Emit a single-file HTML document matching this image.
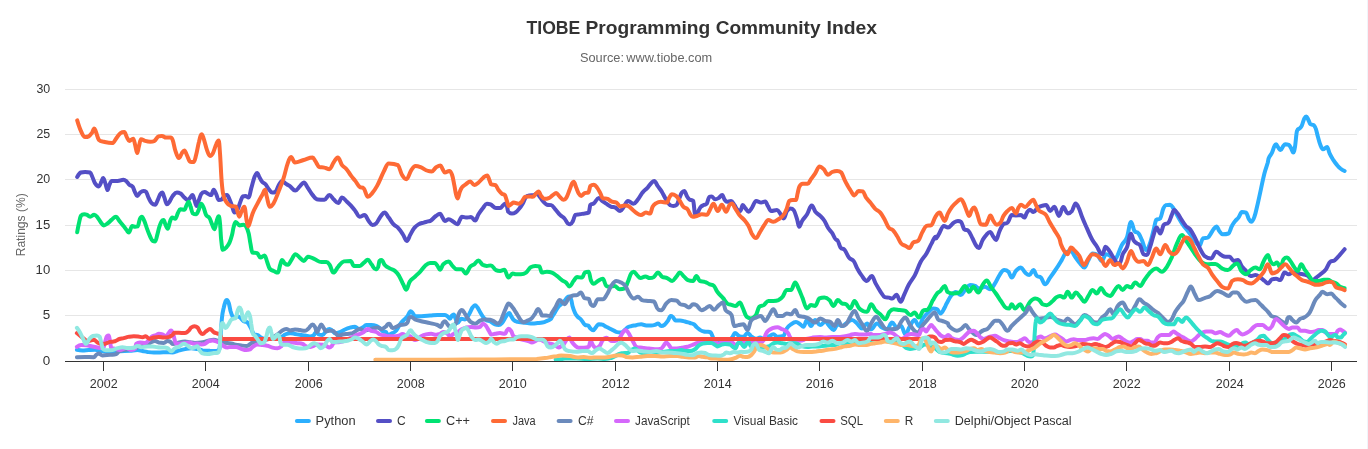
<!DOCTYPE html>
<html><head><meta charset="utf-8"><title>TIOBE Programming Community Index</title>
<style>
html,body{margin:0;padding:0;background:#fff;}
body{width:1368px;height:449px;overflow:hidden;font-family:"Liberation Sans",sans-serif;}
svg{display:block;font-family:"Liberation Sans",sans-serif;}
.ax{font-size:12px;fill:#333333;}
.yt{font-size:12.5px;fill:#666666;}
.title{font-size:18px;font-weight:bold;fill:#333333;}
.sub{font-size:12.5px;fill:#666666;word-spacing:-1.2px;}
.lg{font-size:12.5px;fill:#333333;}
</style></head><body>
<svg width="1368" height="449" viewBox="0 0 1368 449">
<rect x="1367" y="0" width="1" height="449" fill="#f0f4fa"/>
<line x1="65" x2="1357" y1="315.5" y2="315.5" stroke="#e6e6e6" stroke-width="1"/>
<line x1="65" x2="1357" y1="270.5" y2="270.5" stroke="#e6e6e6" stroke-width="1"/>
<line x1="65" x2="1357" y1="225.5" y2="225.5" stroke="#e6e6e6" stroke-width="1"/>
<line x1="65" x2="1357" y1="179.5" y2="179.5" stroke="#e6e6e6" stroke-width="1"/>
<line x1="65" x2="1357" y1="134.5" y2="134.5" stroke="#e6e6e6" stroke-width="1"/>
<line x1="65" x2="1357" y1="89.5" y2="89.5" stroke="#e6e6e6" stroke-width="1"/>
<path d="M76.9 349.8C76.9 349.8 80.2 350.4 82.5 350.4C85.0 350.4 86.2 350.1 88.8 350.0C91.2 349.9 92.5 349.8 95.0 349.8C97.5 349.8 98.8 350.7 101.2 351.0C104.8 351.4 106.5 351.6 110.0 351.6C114.0 351.6 116.0 351.4 120.0 351.2C124.0 351.1 126.0 351.0 130.0 350.8C133.0 350.5 134.5 350.0 137.5 350.0C139.5 350.0 140.5 350.6 142.5 351.0C144.5 351.4 145.5 351.7 147.5 352.0C150.0 352.3 151.2 352.5 153.8 352.5C156.2 352.5 157.5 352.5 160.0 352.5C162.5 352.5 163.8 352.2 166.2 352.2C168.8 352.2 170.0 352.5 172.5 352.5C174.5 352.5 175.5 351.5 177.5 351.0C180.5 350.2 182.0 349.7 185.0 349.1C187.5 348.6 188.8 348.2 191.2 348.2C193.8 348.2 195.0 348.7 197.5 349.1C199.5 349.5 200.5 350.0 202.5 350.4C205.5 350.8 207.0 350.6 210.0 350.8C212.5 350.9 213.8 351.0 216.2 351.0C217.5 351.0 218.1 351.0 219.4 349.1C219.9 347.2 220.1 343.4 220.6 337.2C221.1 331.1 221.4 323.3 221.9 318.5C222.6 311.4 223.0 310.9 223.8 307.5C224.5 304.1 224.9 303.1 225.6 301.2C226.1 300.1 226.4 300.0 226.9 300.0C227.6 300.0 228.0 300.9 228.8 303.1C229.5 305.4 229.9 308.6 230.6 311.2C231.4 313.9 231.8 315.0 232.5 316.2C233.5 317.5 234.0 317.5 235.0 317.5C236.0 317.5 236.5 316.2 237.5 316.2C238.5 316.2 239.0 316.7 240.0 317.5C241.5 318.7 242.2 320.2 243.8 321.2C245.2 322.2 246.0 321.2 247.5 322.5C248.8 323.8 249.4 325.2 250.6 327.5C251.9 329.8 252.5 332.6 253.8 333.9C255.2 335.1 256.0 334.4 257.5 335.1C259.0 335.9 259.8 336.9 261.2 337.6C262.8 338.4 263.5 338.9 265.0 338.9C267.5 338.9 268.8 338.9 271.2 338.9C273.8 338.9 275.0 338.8 277.5 338.2C279.5 337.8 280.5 337.4 282.5 336.4C283.5 335.9 284.0 334.9 285.0 334.5C287.0 333.7 288.0 333.2 290.0 333.2C292.0 333.2 293.0 333.6 295.0 333.9C297.0 334.2 298.0 334.4 300.0 334.8C302.0 335.1 303.0 335.2 305.0 335.5C307.0 335.8 308.0 336.4 310.0 336.4C311.5 336.4 312.2 336.2 313.8 335.1C314.8 334.4 315.2 332.0 316.2 332.0C317.2 332.0 317.8 333.9 318.8 334.5C320.2 335.1 321.0 335.1 322.5 335.1C324.0 335.1 324.8 332.1 326.2 330.8C327.5 329.6 328.1 328.9 329.4 328.9C330.6 328.9 331.2 329.8 332.5 330.8C333.5 331.5 334.0 333.2 335.0 333.2C337.0 333.2 338.0 332.8 340.0 332.0C342.0 331.2 343.0 330.4 345.0 329.5C347.0 328.6 348.0 328.2 350.0 327.6C352.0 327.1 353.0 326.8 355.0 326.8C356.5 326.8 357.2 328.9 358.8 328.9C360.2 328.9 361.0 328.4 362.5 327.6C364.0 326.9 364.8 325.1 366.2 325.1C368.2 325.1 369.2 325.1 371.2 325.1C373.2 325.1 374.2 325.1 376.2 325.8C377.8 326.4 378.5 327.0 380.0 328.2C381.2 329.3 381.9 330.8 383.1 331.4C384.3 332.0 384.9 331.4 386.0 332.0C386.6 332.6 386.9 335.0 387.5 335.0C389.5 335.0 390.5 334.1 392.5 333.1C394.0 332.4 394.8 332.4 396.2 330.6C397.8 328.9 398.5 326.5 400.0 324.4C401.5 322.2 402.2 321.6 403.8 320.0C405.2 318.4 406.0 318.2 407.5 316.2C408.8 314.7 409.4 311.2 410.6 311.2C411.5 311.2 411.9 312.2 412.8 313.1C413.6 314.2 414.1 316.2 415.0 316.2C417.5 316.2 418.8 316.2 421.2 316.2C424.8 316.2 426.5 315.9 430.0 315.6C433.0 315.4 434.5 315.0 437.5 315.0C440.5 315.0 442.0 315.0 445.0 315.0C446.2 315.0 446.9 315.9 448.1 316.9C448.9 317.4 449.2 318.8 450.0 318.8C450.8 318.8 451.1 316.5 451.9 315.6C452.6 314.8 453.0 314.4 453.8 314.4C454.5 314.4 454.9 317.0 455.6 318.8C456.4 320.5 456.8 323.1 457.5 323.1C459.0 323.1 459.8 318.8 461.2 318.8C462.8 318.8 463.5 319.4 465.0 319.4C466.0 319.4 466.5 318.2 467.5 316.9C468.5 315.5 469.0 314.4 470.0 312.5C471.0 310.6 471.5 308.9 472.5 307.5C473.5 306.1 474.0 305.2 475.0 305.2C476.0 305.2 476.5 306.2 477.5 307.5C478.5 308.8 479.0 310.2 480.0 311.9C481.2 314.0 481.9 315.2 483.1 316.9C484.4 318.5 485.0 319.2 486.2 320.0C487.8 321.0 488.5 320.5 490.0 321.2C492.0 322.2 493.0 323.8 495.0 324.4C496.5 325.0 497.2 325.0 498.8 325.0C500.0 325.0 500.6 324.5 501.9 323.1C503.1 321.8 503.8 320.1 505.0 318.1C506.0 316.6 506.5 315.5 507.5 314.4C508.2 313.5 508.6 313.1 509.4 313.1C510.1 313.1 510.5 315.1 511.2 316.2C512.2 317.8 512.8 319.1 513.8 320.0C515.2 321.4 516.0 321.4 517.5 321.9C519.5 322.4 520.5 322.2 522.5 322.5C524.5 322.8 525.5 322.9 527.5 323.1C529.5 323.3 530.5 323.5 532.5 323.5C534.5 323.5 535.5 323.3 537.5 323.1C539.5 322.9 540.5 322.9 542.5 322.5C544.0 322.2 544.8 321.9 546.2 321.2C548.1 320.4 549.1 320.1 551.0 318.8C551.4 318.5 551.5 317.8 551.9 317.2C553.1 315.2 553.8 314.2 555.0 312.2C556.2 310.2 556.9 308.9 558.1 307.2C559.4 305.6 560.0 305.4 561.2 304.1C562.8 302.6 563.5 302.0 565.0 300.4C566.0 299.3 566.5 297.9 567.5 297.2C568.2 296.6 568.6 296.6 569.4 296.6C570.1 296.6 570.5 297.5 571.2 299.8C571.8 301.2 572.0 304.2 572.5 306.0C573.5 309.5 574.0 310.8 575.0 312.9C576.0 315.0 576.5 315.5 577.5 316.6C579.0 318.3 579.8 318.1 581.2 319.8C582.8 321.4 583.5 324.2 585.0 324.9C586.2 325.5 586.9 324.9 588.1 325.5C589.1 326.1 589.6 327.7 590.6 328.6C591.6 329.6 592.1 330.2 593.1 330.2C594.4 330.2 595.0 328.1 596.2 326.8C597.2 325.7 597.8 324.2 598.8 324.2C600.0 324.2 600.6 324.2 601.9 324.5C603.6 324.8 604.5 325.9 606.2 326.8C608.2 327.8 609.2 328.2 611.2 329.2C613.2 330.2 614.2 331.1 616.2 331.8C618.2 332.4 619.2 332.4 621.2 332.4C622.8 332.4 623.5 331.1 625.0 329.9C626.0 329.1 626.5 328.0 627.5 327.4C629.0 326.5 629.8 326.5 631.2 326.1C633.2 325.6 634.2 325.6 636.2 325.2C638.2 324.9 639.2 324.2 641.2 324.2C643.2 324.2 644.2 325.5 646.2 325.5C648.2 325.5 649.2 325.5 651.2 325.5C652.8 325.5 653.5 325.3 655.0 324.9C656.2 324.5 656.9 323.6 658.1 323.6C659.4 323.6 660.0 326.1 661.2 326.1C662.5 326.1 663.1 325.9 664.4 324.9C665.9 323.6 666.6 322.6 668.1 320.5C669.1 319.1 669.6 316.1 670.6 316.1C671.4 316.1 671.8 316.1 672.5 316.8C673.8 317.4 674.4 320.5 675.6 320.5C677.4 320.5 678.2 320.5 680.0 320.5C682.0 320.5 683.0 321.0 685.0 321.5C687.0 322.0 688.0 322.4 690.0 323.0C691.5 323.5 692.2 323.3 693.8 324.2C695.0 325.0 695.6 326.2 696.9 327.4C698.1 328.5 698.8 329.1 700.0 329.9C701.5 330.8 702.2 331.2 703.8 331.5C705.2 331.8 706.0 331.6 707.5 331.8C708.8 331.9 709.4 331.8 710.6 332.4C711.4 333.0 711.8 334.5 712.5 336.1C713.0 337.2 713.2 338.7 713.8 339.2C715.2 340.9 716.0 341.5 717.5 341.8C720.5 342.0 722.0 342.0 725.0 342.0C727.0 342.0 728.0 341.5 730.0 340.1C731.0 339.4 731.5 338.2 732.5 336.8C733.5 335.4 734.0 333.1 735.0 333.1C736.7 333.1 737.5 335.2 739.2 336.0C740.9 336.7 741.7 336.8 743.4 336.8C745.1 336.8 745.9 333.1 747.6 333.1C749.2 333.1 750.1 335.7 751.7 336.8C753.4 337.9 754.2 338.8 755.9 338.8C757.6 338.8 758.4 337.6 760.1 337.6C761.6 337.6 762.3 338.8 763.8 338.8C765.6 338.8 766.6 337.7 768.4 336.8C770.4 335.9 771.4 334.3 773.4 334.3C775.1 334.3 776.0 336.8 777.6 336.8C780.0 336.8 781.1 336.8 783.5 336.0C784.8 335.1 785.5 330.5 786.8 328.5C788.5 325.9 789.3 325.4 791.0 324.3C793.0 322.9 794.0 322.1 796.0 322.1C797.7 322.1 798.5 323.2 800.2 324.3C801.5 325.1 802.2 326.8 803.5 326.8C804.9 326.8 805.5 320.1 806.9 320.1C808.5 320.1 809.4 326.0 811.0 326.0C812.7 326.0 813.5 320.1 815.2 320.1C817.2 320.1 818.2 325.1 820.2 325.1C822.2 325.1 823.2 321.8 825.2 321.8C826.9 321.8 827.7 324.3 829.4 326.0C831.1 327.6 831.9 330.1 833.6 330.1C835.2 330.1 836.1 324.3 837.8 324.3C839.4 324.3 840.3 326.0 841.9 326.0C843.6 326.0 844.4 324.4 846.1 323.4C848.4 322.1 849.6 320.1 852.0 320.1C854.0 320.1 855.0 321.8 857.0 323.4C859.0 325.1 860.0 328.5 862.0 328.5C864.0 328.5 865.0 323.4 867.0 323.4C868.7 323.4 869.5 329.3 871.2 329.3C873.5 329.3 874.7 323.4 877.0 323.4C879.0 323.4 880.0 326.5 882.0 327.6C884.0 328.8 885.0 329.3 887.0 329.3C889.0 329.3 890.0 322.6 892.0 322.6C894.0 322.6 895.0 327.6 897.1 327.6C898.7 327.6 899.6 326.0 901.2 326.0C902.9 326.0 903.7 334.3 905.4 334.3C907.1 334.3 907.9 329.4 909.6 326.8C911.6 323.7 912.6 320.1 914.6 320.1C916.3 320.1 917.1 326.0 918.8 326.0C920.4 326.0 921.3 320.9 922.9 318.4C924.9 315.5 925.9 314.6 928.0 312.6C930.0 310.6 931.0 308.4 933.0 308.4C934.6 308.4 935.5 308.4 937.1 309.3C938.5 310.1 939.1 313.4 940.5 313.4C942.1 313.4 943.0 310.3 944.7 307.6C945.4 306.3 945.8 304.9 946.6 303.5C948.6 299.9 949.6 297.6 951.6 295.1C953.3 293.1 954.1 292.1 955.8 292.1C957.8 292.1 958.8 295.1 960.8 295.1C962.5 295.1 963.3 291.9 965.0 290.1C967.0 287.9 968.0 285.1 970.0 285.1C972.0 285.1 973.0 285.2 975.0 285.9C976.7 286.6 977.5 288.4 979.2 288.4C981.5 288.4 982.7 286.8 985.0 286.8C987.0 286.8 988.0 289.3 990.0 289.3C992.0 289.3 993.0 286.4 995.0 283.4C997.0 280.4 998.0 277.2 1000.0 274.3C1001.7 271.8 1002.5 270.1 1004.2 270.1C1005.9 270.1 1006.7 270.1 1008.4 271.7C1009.7 273.1 1010.4 277.6 1011.7 277.6C1013.4 277.6 1014.2 272.7 1015.9 270.9C1017.9 268.7 1018.9 267.6 1020.9 267.6C1022.6 267.6 1023.4 271.1 1025.1 272.6C1026.8 274.1 1027.6 275.1 1029.3 275.1C1030.9 275.1 1031.8 270.1 1033.4 270.1C1034.8 270.1 1035.4 274.6 1036.8 275.9C1038.5 277.6 1039.3 275.9 1041.0 277.6C1042.6 279.3 1043.5 284.3 1045.1 284.3C1047.1 284.3 1048.1 280.4 1050.1 277.6C1052.5 274.4 1053.7 272.8 1056.0 269.2C1058.3 265.8 1059.4 263.9 1061.7 260.1C1063.4 257.3 1064.2 254.3 1065.9 252.6C1067.9 250.9 1068.9 250.9 1070.9 250.9C1072.6 250.9 1073.4 254.5 1075.1 256.8C1077.1 259.5 1078.1 261.1 1080.1 263.4C1081.8 265.4 1082.6 267.6 1084.3 267.6C1085.9 267.6 1086.8 262.9 1088.4 260.1C1090.1 257.3 1090.9 253.4 1092.6 253.4C1094.6 253.4 1095.6 253.4 1097.6 255.1C1099.3 256.5 1100.1 260.9 1101.8 260.9C1103.5 260.9 1104.3 254.3 1106.0 254.3C1107.6 254.3 1108.5 254.8 1110.2 255.9C1111.8 257.1 1112.7 260.1 1114.3 260.1C1115.7 260.1 1116.3 257.8 1117.7 255.1C1119.3 251.7 1120.2 248.3 1121.8 245.1C1123.8 241.2 1124.9 242.6 1126.9 237.5C1128.5 233.4 1129.4 222.0 1131.0 222.0C1132.4 222.0 1133.0 228.4 1134.4 230.9C1136.0 233.4 1136.9 231.3 1138.5 233.4C1139.9 235.0 1140.6 237.1 1141.9 240.1C1143.6 243.8 1144.4 250.1 1146.1 250.1C1147.7 250.1 1148.6 247.0 1150.2 242.6C1151.6 239.0 1152.2 235.2 1153.6 230.0C1154.6 226.2 1155.1 221.7 1156.1 220.0C1157.8 218.3 1158.6 220.0 1160.3 218.3C1161.5 216.7 1162.1 211.4 1163.4 208.4C1164.4 206.1 1164.9 205.4 1165.9 205.1C1167.6 204.8 1168.4 204.8 1170.1 204.8C1171.4 204.8 1172.1 206.4 1173.4 208.4C1175.1 210.9 1175.9 213.1 1177.6 216.0C1179.6 219.4 1180.6 221.4 1182.6 224.3C1184.9 227.7 1186.1 228.8 1188.4 231.8C1190.4 234.4 1191.4 235.7 1193.4 238.5C1194.8 240.4 1195.5 241.9 1196.8 243.5C1197.9 244.8 1198.4 245.9 1199.5 245.9C1200.8 245.9 1201.5 239.2 1202.9 238.4C1204.9 237.5 1205.9 238.4 1207.9 237.5C1209.5 236.7 1210.4 234.1 1212.0 231.7C1212.6 230.9 1212.9 230.0 1213.5 229.3C1214.7 227.9 1215.3 226.5 1216.5 226.5C1217.6 226.5 1218.2 229.5 1219.3 231.0C1220.7 232.7 1221.3 234.3 1222.7 234.3C1225.0 234.3 1226.2 234.3 1228.5 233.5C1229.9 232.7 1230.5 228.5 1231.9 226.0C1233.2 223.5 1233.9 222.6 1235.2 221.0C1236.5 219.3 1237.2 219.4 1238.5 217.6C1239.9 215.9 1240.6 212.1 1241.9 212.1C1243.6 212.1 1244.4 212.1 1246.1 212.6C1247.1 213.1 1247.6 216.6 1248.6 218.5C1249.6 220.3 1250.1 221.8 1251.1 221.8C1252.4 221.8 1253.1 220.5 1254.4 216.8C1255.8 213.1 1256.4 209.1 1257.8 203.4C1259.1 197.7 1259.8 194.4 1261.1 188.4C1262.4 182.4 1263.1 178.5 1264.4 173.4C1265.8 168.2 1266.4 167.3 1267.8 162.5C1268.1 161.3 1268.3 159.3 1268.6 158.5C1269.9 155.3 1270.6 155.5 1272.0 152.6C1273.0 150.5 1273.5 147.9 1274.5 145.9C1275.1 144.6 1275.5 144.3 1276.1 144.3C1277.0 144.3 1277.4 146.5 1278.3 147.6C1279.2 148.8 1279.7 150.1 1280.6 150.1C1281.7 150.1 1282.2 147.3 1283.3 145.9C1284.1 144.9 1284.5 144.3 1285.3 144.3C1286.7 144.3 1287.3 144.3 1288.7 144.8C1289.7 145.3 1290.2 146.8 1291.2 148.4C1292.0 149.9 1292.5 152.6 1293.3 152.6C1294.0 152.6 1294.3 150.7 1295.0 146.8C1295.8 142.0 1296.2 133.4 1297.0 130.9C1298.0 128.4 1298.5 129.5 1299.5 128.4C1300.4 127.5 1300.8 127.7 1301.7 125.9C1302.6 124.0 1303.1 121.2 1304.0 119.2C1304.9 117.4 1305.3 116.4 1306.2 116.4C1307.1 116.4 1307.5 118.4 1308.4 120.0C1309.2 121.6 1309.6 123.4 1310.4 124.2C1311.7 125.1 1312.4 124.2 1313.7 125.1C1314.5 125.9 1314.9 126.1 1315.7 128.4C1316.6 130.8 1317.0 133.6 1317.9 136.7C1318.9 140.3 1319.4 142.6 1320.4 145.1C1321.4 147.6 1321.9 149.3 1322.9 149.3C1324.6 149.3 1325.4 147.1 1327.1 147.1C1328.1 147.1 1328.6 151.4 1329.6 153.4C1330.9 156.2 1331.6 157.2 1332.9 159.3C1334.6 161.9 1335.4 163.1 1337.1 165.1C1338.4 166.8 1339.1 167.4 1340.4 168.5C1342.1 169.8 1344.6 171.0 1344.6 171.0" fill="none" stroke="#2caffe" stroke-width="4" stroke-linejoin="round" stroke-linecap="round"/>
<path d="M77.2 177.0C77.2 177.0 79.4 173.0 80.9 172.5C82.5 172.0 83.4 172.0 85.1 172.0C87.1 172.0 88.1 172.0 90.1 172.5C91.1 173.0 91.6 175.4 92.6 177.5C93.6 179.7 94.1 181.9 95.1 183.4C96.5 185.5 97.3 186.4 98.8 186.4C99.8 186.4 100.4 183.8 101.4 181.7C102.1 180.4 102.4 178.0 103.1 178.0C104.0 178.0 104.5 180.9 105.4 183.4C106.3 185.7 106.7 190.1 107.6 190.1C108.3 190.1 108.6 186.5 109.3 185.1C110.3 182.8 110.8 180.9 111.8 180.9C114.1 180.9 115.3 180.9 117.6 180.9C120.0 180.9 121.1 179.7 123.5 179.7C124.8 179.7 125.5 180.6 126.8 181.7C127.8 182.6 128.3 183.9 129.3 184.7C130.7 185.9 131.3 185.0 132.7 186.7C133.5 187.8 134.0 190.0 134.8 191.7C135.8 193.6 136.2 195.9 137.2 195.9C138.4 195.9 139.0 193.5 140.2 192.6C141.5 191.5 142.2 190.9 143.5 190.9C144.5 190.9 145.0 190.9 146.0 191.7C147.0 192.6 147.5 195.6 148.5 197.6C149.9 200.3 150.5 202.1 151.9 203.4C153.2 204.8 153.9 204.8 155.2 204.8C156.2 204.8 156.7 202.2 157.7 200.1C158.7 198.0 159.2 195.9 160.2 194.2C161.0 192.9 161.4 192.6 162.2 192.6C163.1 192.6 163.5 195.4 164.4 197.6C165.4 200.1 165.9 204.3 166.9 204.3C167.9 204.3 168.4 203.2 169.4 201.8C170.7 199.8 171.4 197.5 172.7 195.9C174.4 193.9 175.2 192.6 176.9 192.6C178.3 192.6 178.9 192.6 180.3 193.4C181.9 194.2 182.8 196.1 184.4 197.6C185.8 198.8 186.4 200.1 187.8 200.1C188.8 200.1 189.3 198.7 190.3 197.6C191.2 196.7 191.6 195.1 192.5 195.1C193.3 195.1 193.7 198.0 194.5 200.1C195.3 202.3 195.8 205.9 196.6 205.9C197.4 205.9 197.8 203.0 198.6 200.9C199.6 198.3 200.1 195.8 201.1 194.2C202.5 192.2 203.1 192.1 204.5 192.1C206.1 192.1 207.0 193.5 208.7 194.2C209.7 194.7 210.2 195.1 211.2 195.1C212.2 195.1 212.7 189.7 213.7 189.7C214.7 189.7 215.2 192.2 216.2 194.2C217.2 196.3 217.7 200.1 218.7 200.1C220.0 200.1 220.7 200.1 222.0 199.3C223.0 198.4 223.5 196.7 224.5 195.9C225.5 195.1 226.0 195.1 227.0 195.1C228.0 195.1 228.5 197.1 229.5 199.3C230.5 201.4 231.0 203.3 232.0 205.9C233.0 208.6 233.5 212.6 234.5 212.6C235.7 212.6 236.2 212.2 237.4 210.1C238.6 207.9 239.2 204.7 240.4 201.8C241.4 199.3 241.9 196.9 242.9 196.4C243.9 195.9 244.4 195.9 245.4 195.9C246.7 195.9 247.4 197.6 248.7 197.6C249.7 197.6 250.2 192.0 251.2 188.4C252.6 183.6 253.3 180.2 254.6 176.7C255.6 174.1 256.1 173.0 257.1 173.0C258.1 173.0 258.6 175.8 259.6 177.5C260.6 179.3 261.1 180.6 262.1 181.7C263.4 183.2 264.1 182.7 265.4 184.2C266.8 185.7 267.4 187.6 268.8 189.2C270.1 190.9 270.8 192.6 272.1 192.6C273.5 192.6 274.1 192.6 275.5 191.7C276.8 190.9 277.5 187.2 278.8 185.1C280.1 182.9 280.8 180.9 282.1 180.9C283.5 180.9 284.2 182.4 285.5 183.4C286.5 184.1 287.0 184.4 288.0 185.1C288.9 185.6 289.3 185.8 290.2 186.4C292.2 188.0 293.2 190.6 295.2 190.6C297.2 190.6 298.2 187.8 300.2 185.9C301.7 184.6 302.4 182.6 303.9 182.6C305.4 182.6 306.2 185.4 307.7 187.6C309.7 190.4 310.7 192.7 312.7 195.1C314.7 197.5 315.8 199.5 317.8 199.6C320.4 199.8 321.8 199.8 324.4 199.8C326.4 199.8 327.4 195.1 329.4 195.1C331.1 195.1 332.0 197.8 333.6 199.3C335.5 201.0 336.4 203.1 338.3 203.1C339.8 203.1 340.5 197.6 342.0 197.6C343.8 197.6 344.8 199.7 346.7 201.4C348.5 203.0 349.4 203.9 351.2 205.9C352.8 207.7 353.7 208.7 355.3 210.9C357.0 213.0 357.8 216.7 359.5 216.7C361.5 216.7 362.5 215.1 364.5 215.1C366.2 215.1 367.0 218.8 368.7 220.9C370.2 222.8 370.9 225.1 372.4 225.1C373.9 225.1 374.7 225.0 376.2 223.4C377.9 221.7 378.7 218.9 380.4 216.7C382.1 214.6 382.9 212.5 384.6 212.5C386.2 212.5 387.1 215.4 388.7 217.6C390.6 220.0 391.5 222.2 393.4 224.2C395.2 226.2 396.1 225.7 397.9 227.6C399.9 229.7 400.9 231.2 402.9 234.3C404.5 236.6 405.2 240.9 406.8 240.9C408.3 240.9 409.0 236.8 410.5 234.3C412.1 231.4 413.0 229.6 414.6 227.6C416.3 225.6 417.1 225.2 418.8 224.2C420.8 223.1 421.8 223.2 423.8 222.6C425.5 222.1 426.3 221.9 428.0 221.4C429.2 221.1 429.7 221.3 430.9 220.5C432.9 219.1 433.9 217.4 435.9 216.0C437.6 214.8 438.4 213.8 440.1 213.8C441.1 213.8 441.6 216.1 442.6 217.6C443.5 219.0 443.9 221.0 444.8 221.0C446.4 221.0 447.2 219.3 448.8 219.3C450.6 219.3 451.6 220.8 453.4 221.8C455.1 222.8 456.0 224.3 457.6 224.3C458.5 224.3 458.9 221.7 459.8 220.1C460.6 218.7 461.0 216.8 461.8 216.8C463.5 216.8 464.3 217.6 466.0 217.6C468.0 217.6 469.0 217.1 471.0 217.1C472.7 217.1 473.5 220.5 475.2 220.5C476.5 220.5 477.2 216.4 478.5 214.3C480.2 211.6 481.0 210.6 482.7 208.4C484.3 206.3 485.2 203.8 486.9 203.8C488.2 203.8 488.9 203.8 490.2 204.3C492.5 204.8 493.7 208.1 496.0 208.1C497.7 208.1 498.5 208.1 500.2 208.1C501.6 208.1 502.2 205.8 503.6 204.8C504.6 204.0 505.1 203.4 506.1 203.4C506.9 203.4 507.4 210.1 508.2 211.8C509.7 213.5 510.4 213.5 511.9 213.5C513.2 213.5 513.9 213.5 515.2 212.6C516.9 211.8 517.8 210.5 519.4 208.4C520.8 206.8 521.4 205.8 522.8 203.4C524.1 201.1 524.8 198.1 526.1 196.8C527.4 195.4 528.1 195.8 529.4 195.4C531.1 195.1 532.0 195.4 533.6 195.1C535.0 194.8 535.6 193.8 537.0 193.8C538.3 193.8 539.0 196.0 540.3 197.6C541.6 199.2 542.3 200.3 543.6 201.8C545.0 203.2 545.6 204.4 547.0 204.8C548.7 205.1 549.5 204.8 551.2 205.1C552.8 205.4 553.7 207.5 555.3 209.3C557.3 211.5 558.3 213.1 560.3 215.1C562.0 216.8 562.9 216.6 564.5 218.5C565.9 220.0 566.5 222.6 567.9 223.5C568.9 224.3 569.4 224.3 570.4 224.3C571.4 224.3 571.9 222.9 572.9 221.0C573.9 219.1 574.4 215.3 575.4 214.8C577.1 214.3 577.9 214.5 579.6 214.3C581.6 214.0 582.6 213.8 584.6 213.5C586.2 213.2 587.1 213.5 588.7 212.6C589.4 211.8 589.7 206.1 590.4 204.8C591.7 203.4 592.4 204.5 593.8 203.4C595.8 201.8 596.8 198.1 598.8 198.1C600.1 198.1 600.8 199.9 602.1 200.9C604.1 202.4 605.1 203.0 607.1 204.3C608.8 205.3 609.6 206.1 611.3 206.8C613.0 207.4 613.8 206.8 615.5 207.6C617.3 208.5 618.3 211.0 620.1 211.0C621.6 211.0 622.3 208.7 623.8 206.8C625.5 204.6 626.3 200.9 628.0 200.9C630.1 200.9 631.2 203.8 633.4 203.8C635.0 203.8 635.9 202.1 637.5 200.1C639.5 197.7 640.5 195.1 642.5 192.6C644.6 190.1 645.6 189.8 647.6 187.6C649.2 185.7 650.1 184.2 651.7 182.6C652.7 181.6 653.2 180.9 654.2 180.9C655.6 180.9 656.2 184.0 657.6 185.9C659.3 188.3 660.1 189.1 661.8 191.7C663.4 194.4 664.3 196.6 665.9 199.3C667.6 201.9 668.4 204.3 670.1 205.1C671.4 205.9 672.1 205.9 673.4 205.9C674.8 205.9 675.5 205.9 676.8 204.8C677.8 203.6 678.3 200.9 679.3 198.4C680.3 196.0 680.8 194.1 681.8 192.6C682.8 191.1 683.3 190.9 684.3 190.9C685.3 190.9 685.8 194.3 686.8 195.9C687.8 197.6 688.3 198.5 689.3 199.3C690.9 200.5 691.6 199.3 693.2 200.9C694.0 202.6 694.4 214.3 695.2 214.3C696.2 214.3 696.7 214.0 697.7 212.6C698.7 211.3 699.2 208.9 700.2 207.6C701.5 205.9 702.2 205.9 703.5 205.1C704.9 204.3 705.5 205.1 706.9 203.4C707.9 201.8 708.4 197.1 709.4 196.8C710.2 196.4 710.7 196.4 711.5 196.4C713.0 196.4 713.7 199.3 715.2 199.3C716.5 199.3 717.2 198.9 718.5 198.1C720.0 197.2 720.8 195.1 722.2 195.1C723.1 195.1 723.5 198.0 724.4 199.3C725.4 200.7 725.9 201.8 726.9 201.8C728.6 201.8 729.4 200.9 731.1 200.9C732.4 200.9 733.1 203.3 734.4 205.1C735.8 206.9 736.4 209.3 737.8 210.1C738.8 211.0 739.3 211.0 740.3 211.0C741.3 211.0 741.8 205.1 742.8 205.1C743.8 205.1 744.3 207.0 745.3 208.1C746.6 209.6 747.3 211.8 748.6 211.8C749.9 211.8 750.6 209.5 752.0 207.6C753.6 205.2 754.5 200.9 756.1 200.9C758.1 200.9 759.1 202.6 761.1 202.6C762.8 202.6 763.6 201.4 765.3 201.4C766.3 201.4 766.8 204.3 767.8 205.9C769.2 208.1 769.8 211.0 771.2 211.0C773.5 211.0 774.7 210.1 777.0 210.1C778.7 210.1 779.5 213.0 781.2 215.1C782.2 216.4 782.7 218.5 783.7 218.5C785.0 218.5 785.7 213.0 787.0 211.0C788.4 209.0 789.0 208.4 790.4 208.4C791.7 208.4 792.4 208.4 793.7 210.1C795.0 211.8 795.7 215.1 797.1 219.3C797.9 221.8 798.3 226.8 799.1 226.8C800.3 226.8 800.9 222.9 802.1 221.0C804.1 217.8 805.1 217.5 807.1 214.3C808.9 211.3 809.9 205.6 811.7 205.6C813.2 205.6 814.0 210.0 815.4 211.8C817.4 214.2 818.4 214.0 820.4 216.0C822.1 217.6 822.9 218.4 824.6 221.0C825.9 223.1 826.6 225.5 828.0 227.7C829.5 230.2 830.3 230.4 831.9 232.6C833.9 235.4 834.9 240.2 836.9 240.2C836.9 240.2 837.0 240.0 837.0 240.0C838.4 240.0 839.1 245.7 840.5 247.5C842.2 249.7 843.0 248.0 844.7 250.0C846.4 252.0 847.2 255.5 848.9 257.5C850.9 260.0 851.9 258.8 853.9 261.4C855.2 263.1 855.9 266.0 857.2 268.4C858.9 271.4 859.7 272.9 861.4 275.1C863.5 277.9 864.6 280.9 866.8 280.9C868.8 280.9 869.8 275.9 871.8 275.9C873.3 275.9 874.1 280.7 875.6 283.4C877.6 287.0 878.6 288.8 880.6 291.8C882.3 294.3 883.1 296.6 884.8 297.1C886.5 297.6 887.3 297.3 889.0 297.6C890.3 297.9 891.0 298.5 892.3 298.5C894.0 298.5 894.8 294.8 896.5 294.8C898.2 294.8 899.0 301.8 900.7 301.8C902.0 301.8 902.7 297.9 904.0 295.1C906.0 290.9 907.0 288.0 909.0 284.3C911.3 280.0 912.5 279.6 914.9 275.1C917.2 270.6 918.4 266.1 920.7 261.7C923.0 257.4 924.2 257.3 926.5 253.4C928.6 250.0 929.6 247.0 931.6 243.4C933.2 240.3 934.1 236.7 935.7 236.7C935.8 236.7 935.8 238.5 935.8 238.5C937.0 238.5 937.6 236.2 938.8 234.3C940.8 231.2 941.8 226.0 943.8 226.0C945.5 226.0 946.3 227.6 948.0 227.6C950.3 227.6 951.5 224.2 953.8 222.6C955.5 221.5 956.3 220.9 958.0 220.9C959.1 220.9 959.7 220.9 960.9 221.8C962.2 222.6 962.9 227.6 964.2 229.3C965.9 230.9 966.7 229.3 968.4 230.9C970.1 232.6 970.9 235.3 972.6 238.5C973.9 241.0 974.6 243.0 975.9 245.1C977.0 246.9 977.6 248.1 978.8 248.1C980.3 248.1 981.1 242.8 982.6 240.1C984.3 237.2 985.1 236.1 986.8 234.3C988.1 232.9 988.8 232.1 990.1 232.1C991.4 232.1 992.1 235.0 993.4 236.8C994.5 238.2 995.0 240.1 996.0 240.1C997.3 240.1 998.0 234.7 999.3 231.8C1000.8 228.4 1001.6 225.9 1003.1 224.3C1004.9 222.6 1005.8 224.3 1007.6 222.6C1009.3 220.9 1010.2 215.1 1011.8 215.1C1013.5 215.1 1014.3 215.4 1016.0 215.4C1018.0 215.4 1019.0 215.1 1021.0 215.1C1022.3 215.1 1023.0 217.6 1024.3 217.6C1025.4 217.6 1025.9 214.0 1026.9 212.6C1028.1 210.9 1028.7 209.7 1029.9 209.7C1031.3 209.7 1032.1 212.1 1033.5 212.1C1035.2 212.1 1036.0 208.8 1037.7 207.6C1039.4 206.3 1040.2 206.4 1041.9 205.9C1043.6 205.4 1044.4 205.1 1046.1 205.1C1047.7 205.1 1048.6 210.9 1050.2 210.9C1051.9 210.9 1052.7 206.7 1054.4 206.7C1056.2 206.7 1057.1 215.9 1058.9 215.9C1060.7 215.9 1061.5 207.1 1063.3 207.1C1065.1 207.1 1066.0 213.4 1067.8 213.4C1069.4 213.4 1070.3 213.0 1072.0 210.9C1073.4 209.0 1074.2 203.4 1075.6 203.4C1076.8 203.4 1077.4 205.0 1078.6 207.6C1080.0 210.4 1080.6 213.4 1082.0 216.7C1084.0 221.8 1085.0 223.9 1087.0 228.4C1089.0 232.9 1090.0 235.6 1092.0 239.3C1094.0 243.0 1095.0 243.5 1097.0 246.8C1098.3 248.9 1098.9 250.9 1100.1 252.6C1101.1 253.9 1101.6 254.3 1102.6 254.3C1103.8 254.3 1104.3 246.7 1105.5 246.7C1107.0 246.7 1107.8 248.8 1109.3 250.9C1111.0 253.2 1111.8 255.1 1113.5 257.6C1115.2 260.1 1116.0 263.4 1117.7 263.4C1118.7 263.4 1119.2 263.4 1120.2 262.6C1121.2 261.8 1121.7 256.5 1122.7 254.3C1124.3 250.5 1125.2 251.7 1126.9 247.6C1128.5 243.5 1129.4 233.7 1131.0 233.7C1132.0 233.7 1132.5 238.4 1133.5 240.1C1134.9 242.3 1135.5 242.3 1136.9 243.4C1138.1 244.3 1138.7 243.4 1139.9 245.1C1141.4 246.7 1142.1 253.4 1143.6 254.3C1144.9 255.1 1145.6 255.1 1146.9 255.1C1148.2 255.1 1148.9 250.7 1150.2 246.7C1151.6 242.7 1152.2 239.1 1153.6 235.0C1154.8 231.4 1155.4 227.5 1156.6 227.5C1158.1 227.5 1158.8 233.4 1160.3 233.4C1161.6 233.4 1162.3 227.5 1163.6 225.0C1165.6 222.5 1166.6 225.0 1168.6 222.5C1169.9 221.0 1170.5 217.9 1171.7 215.1C1172.7 212.9 1173.2 210.1 1174.2 210.1C1175.6 210.1 1176.2 211.7 1177.6 213.4C1179.3 215.7 1180.1 217.6 1181.8 220.1C1183.4 222.6 1184.3 224.1 1185.9 226.0C1187.6 227.8 1188.4 227.1 1190.1 229.3C1192.2 232.1 1193.2 234.3 1195.3 238.4C1197.3 242.3 1198.3 245.4 1200.3 249.2C1202.0 252.4 1202.9 254.5 1204.5 255.9C1207.2 258.2 1208.5 258.4 1211.2 258.4C1213.2 258.4 1214.2 251.7 1216.2 251.7C1218.2 251.7 1219.2 254.0 1221.2 255.1C1222.9 256.0 1223.7 256.8 1225.4 256.8C1227.1 256.8 1227.9 256.8 1229.6 256.8C1231.2 256.8 1232.1 260.9 1233.8 260.9C1235.4 260.9 1236.3 260.1 1237.9 260.1C1239.6 260.1 1240.4 264.6 1242.1 266.8C1243.8 269.0 1244.6 269.1 1246.3 271.0C1248.0 272.8 1248.8 276.0 1250.5 276.0C1252.5 276.0 1253.5 275.1 1255.5 275.1C1257.5 275.1 1258.5 276.4 1260.5 277.6C1262.1 278.7 1263.0 279.7 1264.7 281.0C1266.0 282.0 1266.7 283.5 1268.0 283.5C1269.6 283.5 1270.4 279.8 1272.0 279.3C1273.6 278.8 1274.5 278.8 1276.1 278.8C1277.8 278.8 1278.6 280.1 1280.3 280.1C1282.0 280.1 1282.8 272.6 1284.5 272.6C1286.1 272.6 1287.0 274.3 1288.7 274.3C1290.3 274.3 1291.2 272.6 1292.8 272.6C1294.8 272.6 1295.8 273.1 1297.8 273.4C1299.8 273.8 1300.8 273.8 1302.9 274.3C1304.9 274.8 1305.9 274.7 1307.9 275.9C1309.5 277.0 1310.4 280.1 1312.0 280.1C1313.7 280.1 1314.5 278.8 1316.2 277.6C1317.9 276.4 1318.7 275.6 1320.4 274.3C1322.4 272.6 1323.4 272.6 1325.4 270.1C1327.4 267.6 1328.4 263.1 1330.4 261.7C1332.1 260.4 1332.9 261.6 1334.6 260.4C1336.6 259.0 1337.6 257.3 1339.6 255.1C1341.6 252.8 1344.6 249.2 1344.6 249.2" fill="none" stroke="#544fc5" stroke-width="4" stroke-linejoin="round" stroke-linecap="round"/>
<path d="M77.2 232.2C77.2 232.2 78.1 226.9 78.7 224.2C79.6 220.3 80.0 217.5 80.9 215.8C82.2 214.2 82.9 214.2 84.2 214.2C85.2 214.2 85.7 214.2 86.7 214.7C88.1 215.2 88.7 216.7 90.1 216.7C91.7 216.7 92.6 214.7 94.2 214.7C95.6 214.7 96.2 215.9 97.6 217.5C98.9 219.1 99.6 220.8 100.9 222.5C102.1 224.0 102.6 225.4 103.8 225.4C105.3 225.4 106.1 224.5 107.6 223.4C109.3 222.2 110.1 221.0 111.8 219.7C113.4 218.4 114.3 216.7 116.0 216.7C117.3 216.7 118.0 219.2 119.3 220.9C121.0 222.9 121.8 223.8 123.5 225.9C124.8 227.6 125.5 228.7 126.8 230.4C127.6 231.4 128.0 232.5 128.8 232.5C130.2 232.5 130.8 225.9 132.2 225.9C133.4 225.9 134.0 226.7 135.2 226.7C136.2 226.7 136.7 226.7 137.7 226.4C138.5 226.0 139.0 221.2 139.8 219.2C140.6 217.3 141.0 216.7 141.8 216.7C142.8 216.7 143.3 218.5 144.3 220.9C145.4 223.2 145.9 225.7 146.9 228.4C148.2 232.0 148.9 233.9 150.2 236.7C151.2 238.9 151.7 240.4 152.7 240.9C153.7 241.4 154.2 241.4 155.2 241.4C156.0 241.4 156.4 237.9 157.2 235.1C158.1 232.0 158.5 229.4 159.4 226.7C160.3 224.0 160.7 222.7 161.6 221.4C162.4 220.1 162.8 220.0 163.6 220.0C164.4 220.0 164.8 223.4 165.6 225.0C166.4 226.8 166.9 228.7 167.7 228.7C168.7 228.7 169.2 223.3 170.2 220.9C171.0 218.9 171.4 217.5 172.2 217.5C173.4 217.5 174.0 218.7 175.2 218.7C176.3 218.7 176.8 215.2 177.8 213.3C178.8 211.5 179.3 209.3 180.3 209.3C181.9 209.3 182.8 209.8 184.4 209.8C185.3 209.8 185.7 206.8 186.6 205.1C187.4 203.6 187.8 201.8 188.6 201.8C189.4 201.8 189.8 204.5 190.6 206.8C191.5 209.2 191.9 212.6 192.8 213.4C194.1 214.3 194.8 214.3 196.1 214.3C197.1 214.3 197.6 212.2 198.6 210.1C199.6 208.0 200.1 203.8 201.1 203.8C202.1 203.8 202.6 205.4 203.6 207.6C204.6 209.9 205.1 213.2 206.1 215.0C207.5 217.4 208.2 215.9 209.5 218.0C210.5 219.6 211.0 222.0 212.0 224.2C213.0 226.4 213.5 229.2 214.5 229.2C215.4 229.2 215.8 223.5 216.7 220.9C217.5 218.4 217.9 216.3 218.7 216.3C219.2 216.3 219.5 218.3 220.0 223.4C220.5 227.8 220.7 235.7 221.2 240.1C221.9 246.3 222.2 249.8 222.9 249.8C224.2 249.8 224.9 249.0 226.2 247.6C227.5 246.1 228.2 245.4 229.5 242.6C230.5 240.4 231.0 238.9 232.0 235.1C232.7 232.5 233.0 229.1 233.7 226.7C234.5 223.9 234.9 222.0 235.7 222.0C237.3 222.0 238.0 225.4 239.6 225.4C241.2 225.4 242.1 224.7 243.7 224.7C244.7 224.7 245.2 225.0 246.2 226.7C247.2 228.4 247.7 229.4 248.7 233.4C249.4 236.1 249.7 239.9 250.4 243.4C251.2 247.6 251.6 252.1 252.4 252.6C254.3 253.1 255.2 252.6 257.1 253.1C258.4 253.6 259.1 257.6 260.4 257.6C262.1 257.6 262.9 255.4 264.6 255.4C265.6 255.4 266.1 259.2 267.1 261.8C268.1 264.4 268.6 267.1 269.6 268.5C271.3 270.8 272.1 270.1 273.8 271.0C275.5 271.8 276.3 272.6 278.0 272.6C278.8 272.6 279.3 267.7 280.1 265.1C280.9 262.7 281.3 260.1 282.1 260.1C283.2 260.1 283.7 262.6 284.7 263.4C286.0 264.5 286.7 264.8 288.0 264.8C289.3 264.8 290.0 262.0 291.3 260.1C293.0 257.7 293.8 254.2 295.5 254.2C297.2 254.2 298.0 256.2 299.7 257.6C301.4 258.9 302.2 260.9 303.9 260.9C305.5 260.9 306.4 256.7 308.0 256.7C310.7 256.7 312.1 258.2 314.7 259.2C317.4 260.3 318.7 262.1 321.4 262.1C323.4 262.1 324.4 262.1 326.4 262.1C327.8 262.1 328.4 263.1 329.8 265.1C331.2 267.3 332.0 272.6 333.4 272.6C335.3 272.6 336.2 268.7 338.1 266.8C340.4 264.3 341.6 261.9 344.0 261.4C346.6 260.9 348.0 260.9 350.6 260.9C352.0 260.9 352.6 265.9 354.0 265.9C356.3 265.9 357.5 265.9 359.8 265.9C361.5 265.9 362.3 263.9 364.0 262.6C365.5 261.4 366.3 259.7 367.8 259.7C369.3 259.7 370.0 262.5 371.5 264.3C373.2 266.3 374.0 269.3 375.7 269.3C376.7 269.3 377.2 268.9 378.2 266.8C378.7 265.6 379.0 261.7 379.5 260.9C380.3 260.1 380.7 260.1 381.5 260.1C382.9 260.1 383.5 263.8 384.9 265.1C386.9 267.1 387.9 267.3 389.9 268.4C391.9 269.6 392.9 269.3 394.9 270.9C396.6 272.3 397.4 273.3 399.1 275.9C400.7 278.6 401.6 281.1 403.2 284.3C404.5 286.6 405.1 289.8 406.3 289.8C407.6 289.8 408.3 283.8 409.6 281.8C411.7 278.6 412.8 278.8 414.9 276.8C416.9 274.8 417.9 273.9 420.0 271.8C422.0 269.6 423.0 267.7 425.0 265.9C427.0 264.2 428.0 263.1 430.0 263.1C432.0 263.1 433.0 263.1 435.0 263.1C436.0 263.1 436.5 264.6 437.5 265.9C438.5 267.3 439.0 269.8 440.0 269.8C441.3 269.8 442.0 265.5 443.3 264.3C445.5 262.2 446.5 261.4 448.7 261.4C450.2 261.4 451.0 264.4 452.5 265.9C454.2 267.6 455.0 269.3 456.7 269.3C458.7 269.3 459.7 269.3 461.7 269.3C463.4 269.3 464.2 273.4 465.9 273.4C467.6 273.4 468.4 268.6 470.1 266.8C471.7 264.9 472.6 265.5 474.2 264.3C475.9 263.0 476.7 260.6 478.4 260.6C480.1 260.6 480.9 263.7 482.6 264.8C484.3 265.8 485.1 265.9 486.8 265.9C488.4 265.9 489.3 265.4 490.9 265.4C492.9 265.4 493.9 269.3 496.0 270.1C497.6 270.9 498.5 270.9 500.1 270.9C501.8 270.9 502.6 269.8 504.3 269.8C506.0 269.8 506.8 277.6 508.5 277.6C510.1 277.6 511.0 273.4 512.7 273.4C514.0 273.4 514.7 274.3 516.0 274.3C518.0 274.3 519.0 274.3 521.0 274.2C523.0 274.2 524.0 274.0 526.0 272.6C528.0 271.1 529.0 268.2 531.0 267.1C532.7 265.9 533.5 265.9 535.2 265.9C536.9 265.9 537.7 265.9 539.4 266.4C540.4 266.9 540.9 272.6 541.9 272.6C543.9 272.6 544.9 271.7 546.9 271.7C548.9 271.7 549.9 271.7 551.9 272.6C553.9 273.4 554.9 274.4 556.9 275.9C558.9 277.4 559.9 278.6 561.9 280.1C563.6 281.3 564.4 281.2 566.1 282.6C567.4 283.7 568.1 286.4 569.4 286.4C571.1 286.4 572.0 283.0 573.6 280.9C575.0 279.3 575.6 277.1 577.0 277.1C579.0 277.1 580.0 277.6 582.0 277.6C583.1 277.6 583.7 273.4 584.8 272.6C586.4 271.7 587.1 271.7 588.7 271.7C589.5 271.7 590.0 278.0 590.8 280.1C592.0 282.8 592.5 283.8 593.7 283.8C595.3 283.8 596.2 281.8 597.8 280.9C599.8 279.8 600.9 278.8 602.9 278.8C604.2 278.8 604.9 285.1 606.2 285.9C607.5 286.8 608.2 286.8 609.5 286.8C611.5 286.8 612.5 285.9 614.5 285.9C616.6 285.9 617.6 289.3 619.6 289.3C621.6 289.3 622.6 289.3 624.6 288.4C625.9 287.6 626.6 284.8 627.9 281.8C629.2 278.8 629.9 275.1 631.2 273.4C632.3 271.7 632.8 271.7 633.8 271.7C635.1 271.7 635.8 273.8 637.1 275.1C638.4 276.3 639.1 278.1 640.4 278.1C642.4 278.1 643.4 276.4 645.4 276.4C647.1 276.4 648.0 278.1 649.6 278.1C651.3 278.1 652.1 278.1 653.8 277.1C655.5 276.1 656.3 272.6 658.0 272.6C659.6 272.6 660.5 275.7 662.1 276.7C664.2 277.9 665.2 277.2 667.2 278.1C669.2 278.9 670.2 280.9 672.2 280.9C673.8 280.9 674.7 278.6 676.3 276.7C677.7 275.3 678.4 272.6 679.7 272.6C681.4 272.6 682.2 274.9 683.9 276.4C685.5 277.9 686.4 279.3 688.0 280.1C690.0 280.9 691.0 280.9 693.1 280.9C694.4 280.9 695.1 275.9 696.4 275.9C697.7 275.9 698.4 280.1 699.7 280.9C701.7 281.8 702.7 281.1 704.7 281.8C706.7 282.4 707.7 283.4 709.8 284.3C711.4 285.0 712.3 284.3 713.9 285.9C715.3 287.3 715.9 290.0 717.3 291.8C719.6 294.9 720.8 295.4 723.1 298.1C724.8 300.1 725.6 302.1 727.3 303.5C729.0 304.8 729.8 304.3 731.5 304.8C733.1 305.3 734.0 306.0 735.6 306.0C737.3 306.0 738.1 302.6 739.8 302.6C740.8 302.6 741.3 304.8 742.3 306.8C744.1 310.4 745.0 315.1 746.7 316.8C748.4 318.4 749.2 318.4 750.9 318.4C752.9 318.4 753.9 317.9 755.9 315.1C757.2 313.2 757.9 308.4 759.3 306.7C761.1 305.1 762.0 306.2 763.8 305.1C765.6 303.9 766.6 300.9 768.4 300.9C770.4 300.9 771.4 300.9 773.4 300.9C775.5 300.9 776.5 300.9 778.5 300.1C780.1 299.2 781.0 298.7 782.6 296.7C784.3 294.7 785.1 290.0 786.8 290.0C788.5 290.0 789.3 290.0 791.0 290.0C792.7 290.0 793.5 282.5 795.2 282.5C796.5 282.5 797.2 285.6 798.5 288.4C800.2 291.9 801.0 294.4 802.7 298.4C804.3 302.4 805.2 308.4 806.9 308.4C808.5 308.4 809.4 305.1 811.0 305.1C812.7 305.1 813.5 305.9 815.2 305.9C816.9 305.9 817.7 299.2 819.4 298.4C821.4 297.6 822.4 297.6 824.4 297.6C826.4 297.6 827.4 298.2 829.4 300.1C831.1 301.6 831.9 305.9 833.6 305.9C835.2 305.9 836.1 300.1 837.8 300.1C839.4 300.1 840.3 302.6 841.9 303.4C843.6 304.2 844.4 303.4 846.1 304.2C847.8 305.1 848.6 308.4 850.3 308.4C852.0 308.4 852.8 300.9 854.5 300.9C856.1 300.9 857.0 305.6 858.6 307.6C860.3 309.6 861.1 310.1 862.8 310.9C864.5 311.8 865.3 311.8 867.0 311.8C868.7 311.8 869.5 304.2 871.2 304.2C872.8 304.2 873.7 308.3 875.3 310.1C877.3 312.3 878.3 312.4 880.3 314.3C882.4 316.1 883.4 319.3 885.4 319.3C887.0 319.3 887.9 313.8 889.5 311.8C891.2 309.8 892.0 309.3 893.7 309.3C896.0 309.3 897.2 309.8 899.6 310.1C901.9 310.4 903.1 310.1 905.4 310.9C907.4 311.8 908.4 315.1 910.4 315.1C912.1 315.1 912.9 312.6 914.6 312.6C916.3 312.6 917.1 317.6 918.8 317.6C920.4 317.6 921.3 312.6 922.9 310.9C924.9 309.3 925.9 310.9 928.0 309.3C930.0 307.6 931.0 303.5 933.0 300.1C934.6 297.2 935.5 295.4 937.1 293.4C938.5 291.8 939.1 292.2 940.5 290.9C942.1 289.2 943.0 285.9 944.7 285.9C945.8 285.9 946.3 290.1 947.4 291.8C949.8 293.5 950.9 293.5 953.3 293.5C955.6 293.5 956.8 293.5 959.1 292.6C961.5 291.8 962.6 285.9 965.0 285.9C966.6 285.9 967.5 291.8 969.1 291.8C970.8 291.8 971.6 286.8 973.3 286.8C975.3 286.8 976.3 292.6 978.3 292.6C980.0 292.6 980.8 287.5 982.5 285.1C984.2 282.7 985.0 280.4 986.7 280.4C988.3 280.4 989.2 284.4 990.9 286.8C992.9 289.6 993.9 290.6 995.9 293.5C997.9 296.3 998.9 298.1 1000.9 301.0C1002.9 303.8 1003.9 306.8 1005.9 307.7C1007.2 308.5 1007.9 308.5 1009.2 308.5C1010.2 308.5 1010.7 304.3 1011.7 304.3C1013.1 304.3 1013.7 308.5 1015.1 308.5C1017.1 308.5 1018.1 304.3 1020.1 304.3C1021.8 304.3 1022.6 310.0 1024.3 310.0C1026.6 310.0 1027.8 304.3 1030.1 301.8C1032.1 299.7 1033.1 298.5 1035.1 298.5C1036.8 298.5 1037.6 298.8 1039.3 300.1C1040.6 301.2 1041.3 303.5 1042.6 304.3C1044.3 305.2 1045.1 305.2 1046.8 305.2C1049.1 305.2 1050.3 302.9 1052.7 301.0C1054.0 299.9 1054.7 298.6 1056.0 297.6C1057.6 296.5 1058.4 295.9 1060.0 295.9C1061.7 295.9 1062.5 297.6 1064.2 297.6C1065.6 297.6 1066.2 291.7 1067.6 291.7C1069.2 291.7 1070.1 297.6 1071.7 297.6C1073.4 297.6 1074.2 292.5 1075.9 292.5C1077.6 292.5 1078.4 294.9 1080.1 296.7C1081.8 298.6 1082.6 301.7 1084.3 301.7C1085.9 301.7 1086.8 298.2 1088.4 295.9C1090.1 293.6 1090.9 290.0 1092.6 290.0C1094.3 290.0 1095.1 293.4 1096.8 293.4C1098.5 293.4 1099.3 288.0 1101.0 288.0C1102.6 288.0 1103.5 292.0 1105.1 293.4C1107.1 295.1 1108.1 295.9 1110.2 295.9C1111.8 295.9 1112.7 292.9 1114.3 290.9C1116.0 288.9 1116.8 285.9 1118.5 285.9C1120.2 285.9 1121.0 290.0 1122.7 290.0C1124.3 290.0 1125.2 285.9 1126.9 285.9C1128.5 285.9 1129.4 287.5 1131.0 287.5C1132.7 287.5 1133.5 282.5 1135.2 282.5C1137.2 282.5 1138.2 285.9 1140.2 285.9C1141.9 285.9 1142.7 282.4 1144.4 280.0C1146.1 277.7 1146.9 276.2 1148.6 274.2C1149.9 272.5 1150.6 271.9 1151.9 270.8C1153.6 269.6 1154.4 268.4 1156.1 268.4C1158.4 268.4 1159.6 271.8 1161.9 271.8C1163.9 271.8 1164.9 269.8 1166.9 266.8C1168.9 263.8 1169.9 261.4 1172.0 256.8C1174.0 252.1 1175.0 247.7 1177.0 243.4C1179.0 239.1 1180.0 235.0 1182.0 235.0C1183.6 235.0 1184.5 238.5 1186.1 240.9C1188.2 243.8 1189.2 245.4 1191.2 248.4C1193.2 251.4 1194.2 253.2 1196.2 255.9C1198.2 258.6 1199.2 260.2 1201.2 261.8C1203.5 263.6 1204.7 264.3 1207.0 264.3C1210.4 264.3 1212.0 263.9 1215.4 263.9C1218.1 263.9 1219.4 267.1 1222.1 268.4C1224.4 269.6 1225.6 270.1 1227.9 270.1C1229.9 270.1 1230.9 267.4 1232.9 265.9C1234.6 264.7 1235.4 263.4 1237.1 263.4C1238.8 263.4 1239.6 269.0 1241.3 271.0C1243.3 273.3 1244.3 274.3 1246.3 274.3C1248.0 274.3 1248.8 271.3 1250.5 270.1C1252.5 268.7 1253.5 267.6 1255.5 267.6C1257.1 267.6 1258.0 269.3 1259.6 269.3C1261.3 269.3 1262.1 263.8 1263.8 260.9C1265.5 258.1 1266.3 255.1 1268.0 255.1C1268.9 255.1 1269.4 259.4 1270.3 260.9C1271.6 263.1 1272.3 264.3 1273.6 264.3C1275.0 264.3 1275.6 262.6 1277.0 262.6C1278.3 262.6 1279.0 267.6 1280.3 267.6C1281.6 267.6 1282.3 260.9 1283.6 259.2C1285.0 257.6 1285.6 257.6 1287.0 257.6C1288.3 257.6 1289.0 259.1 1290.3 260.9C1292.0 263.1 1292.8 265.4 1294.5 267.6C1295.8 269.4 1296.5 270.9 1297.8 270.9C1299.2 270.9 1299.8 264.3 1301.2 264.3C1302.5 264.3 1303.2 267.3 1304.5 269.3C1306.2 271.7 1307.0 273.0 1308.7 275.1C1310.7 277.7 1311.7 281.0 1313.7 281.0C1315.7 281.0 1316.7 281.0 1318.7 281.0C1320.7 281.0 1321.7 279.8 1323.7 279.8C1325.4 279.8 1326.2 279.8 1327.9 279.8C1329.6 279.8 1330.4 281.1 1332.1 281.8C1333.8 282.5 1334.6 282.5 1336.3 283.5C1337.9 284.5 1338.8 285.9 1340.4 286.8C1342.1 287.7 1344.6 288.1 1344.6 288.1" fill="none" stroke="#00e272" stroke-width="4" stroke-linejoin="round" stroke-linecap="round"/>
<path d="M77.2 120.4C77.2 120.4 79.4 127.8 80.9 130.9C82.5 134.5 83.4 137.1 85.1 137.1C86.5 137.1 87.3 137.1 88.7 136.4C90.1 135.7 90.7 134.5 92.1 132.6C92.9 131.3 93.4 128.4 94.2 128.4C94.9 128.4 95.2 130.1 95.9 131.7C97.0 134.6 97.6 137.7 98.8 139.8C100.8 141.8 101.8 141.3 103.8 141.8C107.1 142.6 108.8 143.1 112.1 143.1C114.0 143.1 114.9 139.8 116.8 137.6C118.3 135.8 119.0 134.1 120.5 133.1C122.0 132.1 122.8 132.1 124.3 132.1C125.3 132.1 125.8 135.3 126.8 137.1C127.8 138.9 128.3 140.9 129.3 140.9C130.9 140.9 131.6 138.8 133.2 138.8C134.0 138.8 134.4 142.2 135.2 145.1C136.0 148.0 136.4 153.1 137.2 153.1C137.8 153.1 138.2 149.2 138.8 146.8C139.7 143.6 140.1 139.3 141.0 139.3C142.7 139.3 143.5 140.5 145.2 140.9C147.2 141.5 148.2 141.8 150.2 141.8C151.9 141.8 152.7 141.8 154.4 140.9C156.0 140.1 156.9 136.9 158.5 136.4C159.9 135.9 160.6 135.9 161.9 135.9C163.6 135.9 164.4 137.6 166.1 137.6C167.9 137.6 168.8 137.6 170.6 137.6C171.4 137.6 171.9 137.8 172.7 140.1C173.7 142.8 174.2 147.2 175.2 150.1C176.7 154.4 177.5 158.1 178.9 158.1C180.1 158.1 180.7 154.8 181.9 153.1C182.9 151.7 183.4 150.4 184.4 150.4C185.4 150.4 185.9 153.2 186.9 155.1C188.3 157.7 188.9 161.5 190.3 161.8C191.6 162.1 192.3 162.1 193.6 162.1C194.6 162.1 195.1 158.9 196.1 155.1C197.3 150.8 197.8 146.1 199.0 141.8C200.0 137.7 200.6 134.2 201.6 134.2C202.4 134.2 202.8 136.0 203.6 138.4C205.0 142.4 205.6 146.4 207.0 150.1C208.2 153.4 208.8 156.0 210.0 156.0C211.1 156.0 211.7 155.6 212.8 153.4C214.2 150.9 214.8 147.2 216.2 144.3C217.2 142.1 217.7 140.6 218.7 140.6C219.2 140.6 219.5 146.2 220.0 153.4C220.7 162.7 221.0 173.3 221.7 181.8C222.4 190.0 222.7 192.4 223.4 195.1C224.7 200.7 225.4 200.6 226.7 202.5C228.4 204.9 229.2 205.0 230.9 205.9C232.9 206.7 233.9 205.9 235.9 206.7C237.2 207.5 237.9 216.7 239.3 216.7C240.1 216.7 240.6 213.5 241.4 211.7C242.6 209.4 243.1 206.7 244.3 206.7C245.3 206.7 245.8 216.6 246.8 221.7C247.3 224.5 247.6 226.4 248.1 226.4C248.9 226.4 249.3 224.1 250.1 221.7C251.1 218.8 251.6 215.8 252.6 213.4C254.6 208.5 255.6 207.2 257.6 203.4C259.6 199.5 260.6 197.8 262.6 194.2C263.6 192.4 264.1 189.8 265.1 189.8C265.8 189.8 266.1 194.4 266.8 196.8C268.0 201.2 268.6 206.8 269.8 206.8C271.3 206.8 272.0 206.0 273.5 203.5C275.5 200.0 276.5 196.8 278.5 191.8C280.5 186.8 281.5 184.6 283.5 178.4C285.2 173.3 286.0 168.1 287.7 163.4C289.0 159.6 289.7 157.0 291.0 157.0C292.6 157.0 293.3 162.5 294.9 162.5C298.3 162.5 300.1 161.0 303.6 160.0C307.2 159.0 309.1 157.5 312.7 157.5C313.7 157.5 314.2 159.5 315.2 160.9C316.9 163.3 317.8 166.6 319.4 167.1C321.4 167.6 322.4 167.1 324.4 167.6C326.4 168.0 327.4 169.2 329.4 169.2C331.1 169.2 332.0 164.9 333.6 162.5C335.3 160.2 336.1 157.5 337.8 157.5C339.5 157.5 340.3 162.8 342.0 165.1C343.6 167.3 344.5 166.8 346.1 168.7C348.2 171.1 349.2 173.3 351.2 175.9C352.8 178.1 353.7 178.8 355.3 180.9C357.0 183.1 357.8 185.3 359.5 186.8C361.2 188.3 362.0 186.8 363.7 188.4C365.4 190.1 366.2 196.8 367.9 196.8C369.5 196.8 370.4 195.4 372.0 193.4C374.0 191.1 375.0 189.7 377.1 185.9C379.7 181.0 381.1 176.9 383.7 171.7C385.7 167.9 386.7 163.4 388.7 163.4C392.4 163.4 394.3 163.4 397.9 165.1C399.6 166.7 400.4 172.2 402.1 175.1C403.8 177.9 404.6 179.3 406.3 179.3C408.3 179.3 409.3 173.0 411.3 170.1C413.0 167.6 413.8 165.9 415.5 165.9C417.5 165.9 418.5 166.3 420.5 167.1C423.5 168.3 425.0 170.4 428.0 170.9C429.5 171.4 430.2 171.4 431.7 171.4C433.4 171.4 434.2 168.7 435.9 167.5C437.7 166.3 438.6 165.4 440.4 165.4C441.3 165.4 441.7 167.8 442.6 169.2C443.5 170.6 443.9 172.5 444.8 172.5C446.6 172.5 447.5 170.9 449.3 170.9C450.4 170.9 451.0 171.8 452.1 175.0C453.0 177.5 453.4 180.7 454.3 185.1C455.0 188.4 455.3 191.6 456.0 194.3C456.6 196.9 457.0 198.4 457.6 198.4C458.5 198.4 458.9 194.0 459.8 191.7C460.6 189.7 461.0 188.5 461.8 187.6C463.5 185.5 464.3 185.5 466.0 184.2C467.6 183.0 468.5 181.4 470.2 181.4C471.8 181.4 472.7 185.1 474.3 185.1C476.0 185.1 476.8 183.9 478.5 182.6C480.5 180.9 481.5 179.2 483.5 177.5C485.0 176.3 485.7 175.4 487.2 175.4C488.1 175.4 488.5 178.1 489.4 180.1C490.0 181.6 490.4 183.4 491.0 184.2C492.8 185.1 493.7 184.2 495.5 185.1C496.7 185.9 497.3 188.4 498.5 190.1C499.9 191.9 500.6 192.7 501.9 193.8C503.1 194.7 503.7 193.8 504.9 195.1C505.7 196.4 506.1 198.6 506.9 200.9C507.6 202.9 507.9 205.9 508.6 205.9C509.6 205.9 510.1 204.9 511.1 204.3C512.1 203.6 512.6 202.6 513.6 202.6C515.6 202.6 516.6 203.8 518.6 203.8C519.8 203.8 520.4 203.0 521.6 201.8C523.1 200.2 523.8 197.1 525.3 196.8C526.6 196.4 527.3 196.4 528.6 196.4C530.3 196.4 531.1 196.8 532.8 196.8C534.1 196.8 534.8 194.6 536.1 193.4C537.1 192.5 537.6 191.4 538.6 191.4C539.6 191.4 540.1 194.7 541.1 195.9C542.5 197.6 543.1 198.8 544.5 198.8C546.1 198.8 547.0 198.8 548.7 198.1C550.3 197.4 551.2 196.2 552.8 195.1C554.2 194.2 554.8 193.1 556.2 193.1C557.5 193.1 558.2 195.2 559.5 196.4C561.2 197.9 562.0 199.8 563.7 199.8C564.7 199.8 565.2 199.8 566.2 198.1C567.5 195.9 568.2 193.4 569.5 190.1C570.5 187.6 571.0 185.4 572.0 183.4C572.7 182.1 573.0 181.7 573.7 181.7C574.7 181.7 575.2 185.2 576.2 187.6C577.2 189.9 577.7 191.7 578.7 193.4C579.7 195.1 580.2 195.9 581.2 195.9C582.6 195.9 583.2 193.6 584.6 193.1C586.1 192.6 586.9 193.1 588.4 192.6C589.2 192.1 589.6 187.1 590.4 185.9C591.7 184.7 592.4 184.7 593.8 184.7C595.1 184.7 595.8 185.8 597.1 187.6C598.4 189.3 599.1 190.9 600.4 193.4C601.4 195.3 601.9 198.1 602.9 198.4C604.6 198.8 605.4 198.4 607.1 198.8C608.8 199.1 609.6 200.7 611.3 201.4C613.3 202.3 614.3 201.5 616.3 202.6C618.0 203.5 618.8 206.4 620.5 206.4C622.1 206.4 623.0 205.4 624.7 205.4C626.0 205.4 626.7 205.4 628.0 205.9C629.1 206.4 629.7 207.1 630.9 208.1C632.9 209.8 633.9 211.2 635.9 212.6C637.9 214.0 638.9 215.1 640.9 215.1C642.9 215.1 643.9 212.6 645.9 212.6C647.6 212.6 648.4 213.5 650.1 213.5C651.1 213.5 651.6 208.5 652.6 206.8C653.9 204.5 654.6 204.2 655.9 203.4C657.9 202.2 658.9 201.8 660.9 201.8C663.3 201.8 664.4 202.6 666.8 202.6C667.8 202.6 668.3 199.3 669.3 197.6C670.3 195.9 670.8 194.3 671.8 194.3C673.4 194.3 674.3 194.6 676.0 195.9C677.3 197.0 678.0 198.2 679.3 200.1C681.0 202.5 681.8 204.9 683.5 206.8C685.1 208.6 686.0 207.4 687.6 209.3C688.6 210.4 689.1 212.8 690.2 214.3C691.2 215.8 691.7 216.8 692.7 216.8C694.3 216.8 695.2 216.4 696.8 216.0C698.8 215.4 699.8 214.3 701.8 214.3C703.8 214.3 704.9 214.8 706.9 214.8C708.2 214.8 708.9 211.5 710.2 209.3C711.5 207.1 712.2 203.8 713.5 203.8C715.2 203.8 716.0 211.0 717.7 211.0C719.4 211.0 720.2 204.8 721.9 204.8C723.6 204.8 724.4 211.8 726.1 211.8C727.4 211.8 728.1 207.0 729.4 205.1C730.4 203.7 730.9 203.4 731.9 203.4C733.2 203.4 733.9 206.4 735.2 208.4C736.9 211.0 737.8 213.0 739.4 215.1C741.4 217.7 742.4 217.8 744.4 220.1C746.1 222.1 746.9 222.9 748.6 226.0C749.9 228.3 750.5 231.4 751.7 233.5C753.4 236.3 754.2 238.1 755.9 238.1C757.6 238.1 758.4 234.4 760.1 231.8C761.7 229.2 762.6 227.5 764.2 225.1C765.9 222.8 766.7 220.1 768.4 220.1C770.4 220.1 771.4 221.8 773.4 221.8C775.4 221.8 776.4 220.6 778.4 219.3C780.4 217.9 781.4 217.7 783.4 215.1C784.8 213.4 785.5 211.7 786.8 208.4C787.8 206.0 788.3 201.7 789.3 200.9C790.6 200.1 791.3 200.1 792.6 200.1C794.0 200.1 794.6 200.1 796.0 200.1C796.6 200.1 797.0 196.1 797.6 193.4C798.3 190.7 798.6 188.0 799.3 186.7C800.7 184.1 801.3 183.7 802.7 183.7C804.7 183.7 805.7 183.7 807.7 183.7C809.0 183.7 809.7 181.0 811.0 179.2C812.7 176.9 813.5 175.8 815.2 173.3C817.0 170.7 817.8 166.4 819.6 166.4C821.3 166.4 822.1 167.5 823.8 169.2C825.4 170.9 826.3 174.7 828.0 174.7C829.6 174.7 830.5 172.7 832.1 172.0C834.1 171.2 835.1 170.9 837.1 170.9C838.8 170.9 839.6 170.9 841.3 172.5C842.6 174.2 843.3 177.3 844.7 180.1C846.0 182.8 846.7 184.0 848.0 186.4C848.9 188.0 849.4 188.8 850.3 190.0C851.9 192.4 852.8 195.4 854.4 195.4C856.1 195.4 856.9 190.9 858.6 190.9C860.3 190.9 861.1 190.9 862.8 191.4C864.1 191.9 864.8 195.6 866.1 197.6C867.8 200.0 868.6 200.5 870.3 202.6C872.3 205.0 873.3 206.7 875.3 208.8C877.3 210.8 878.3 210.3 880.3 212.6C882.0 214.5 882.8 216.3 884.5 219.3C886.2 222.3 887.0 225.5 888.7 227.6C890.3 229.8 891.2 228.5 892.9 230.1C894.5 231.8 895.4 233.3 897.0 236.0C898.7 238.6 899.5 241.6 901.2 243.5C903.0 245.5 903.9 244.9 905.7 245.9C907.2 246.7 908.0 248.0 909.5 248.0C911.0 248.0 911.7 243.7 913.2 242.5C915.2 240.9 916.2 242.5 918.2 240.8C919.8 239.2 920.5 235.5 922.1 232.6C923.8 229.6 924.6 226.8 926.3 226.0C928.3 225.1 929.3 226.0 931.3 225.1C932.9 224.3 933.8 219.3 935.4 216.8C937.1 214.3 938.0 212.6 939.6 212.6C940.6 212.6 941.1 215.1 942.1 216.8C943.1 218.4 943.6 220.9 944.6 220.9C946.0 220.9 946.6 216.0 948.0 213.4C949.6 210.3 950.5 208.8 952.1 206.7C954.5 203.8 955.7 202.9 958.0 200.9C959.1 199.9 959.7 199.2 960.9 199.2C961.9 199.2 962.4 200.5 963.4 202.5C964.7 205.2 965.4 207.8 966.7 210.9C967.7 213.2 968.2 215.9 969.2 215.9C970.2 215.9 970.7 211.7 971.7 210.1C972.7 208.4 973.2 207.6 974.2 207.6C975.4 207.6 975.9 210.6 977.1 213.4C978.6 217.2 979.4 223.8 980.9 224.3C982.9 224.8 983.9 224.8 985.9 224.8C986.9 224.8 987.4 221.3 988.4 219.3C989.2 217.6 989.6 215.4 990.4 215.4C991.6 215.4 992.2 219.1 993.4 220.9C994.8 222.9 995.5 224.8 996.8 224.8C998.3 224.8 999.0 224.5 1000.5 222.6C1001.7 221.0 1002.3 217.9 1003.5 215.9C1005.1 213.2 1006.0 212.5 1007.6 210.9C1009.3 209.3 1010.2 208.1 1011.8 208.1C1013.5 208.1 1014.3 213.4 1016.0 213.4C1017.0 213.4 1017.5 209.3 1018.5 207.6C1019.5 205.8 1020.0 204.7 1021.0 204.7C1022.7 204.7 1023.5 207.1 1025.2 207.1C1026.9 207.1 1027.7 204.6 1029.4 203.0C1030.9 201.6 1031.7 199.7 1033.2 199.7C1034.3 199.7 1034.9 202.9 1036.0 205.1C1037.0 207.0 1037.5 208.9 1038.5 210.1C1040.2 211.9 1041.1 211.5 1042.7 212.6C1044.1 213.5 1044.7 213.2 1046.1 215.1C1047.4 216.9 1048.1 219.4 1049.4 221.8C1051.4 225.4 1052.4 226.8 1054.4 230.1C1056.4 233.4 1057.4 234.1 1059.4 238.5C1060.0 239.7 1060.3 242.7 1060.9 244.2C1062.2 247.7 1062.9 248.9 1064.2 250.9C1065.6 252.9 1066.2 254.3 1067.6 254.3C1068.9 254.3 1069.6 247.6 1070.9 247.6C1072.2 247.6 1072.9 248.7 1074.2 250.1C1076.2 252.1 1077.2 252.8 1079.3 255.9C1081.1 258.8 1082.0 265.1 1083.8 265.1C1085.6 265.1 1086.6 260.7 1088.4 258.4C1090.1 256.4 1090.9 254.3 1092.6 254.3C1094.6 254.3 1095.6 254.6 1097.6 255.9C1099.3 257.0 1100.1 258.0 1101.8 260.1C1103.3 262.0 1104.0 265.9 1105.5 265.9C1107.3 265.9 1108.3 260.1 1110.2 260.1C1111.8 260.1 1112.7 265.1 1114.3 265.1C1116.0 265.1 1116.8 263.4 1118.5 263.4C1120.2 263.4 1121.0 268.4 1122.7 268.4C1124.3 268.4 1125.2 265.3 1126.9 261.8C1128.5 258.3 1129.4 250.9 1131.0 250.9C1132.4 250.9 1133.0 255.7 1134.4 257.6C1136.0 260.0 1136.9 261.8 1138.5 261.8C1140.6 261.8 1141.6 260.9 1143.6 260.9C1145.2 260.9 1146.1 265.1 1147.7 265.1C1149.4 265.1 1150.2 260.9 1151.9 257.6C1153.6 254.3 1154.4 248.4 1156.1 248.4C1157.8 248.4 1158.6 254.3 1160.3 254.3C1162.3 254.3 1163.3 245.1 1165.3 245.1C1166.9 245.1 1167.8 249.9 1169.4 251.7C1171.1 253.6 1172.0 254.3 1173.6 254.3C1175.3 254.3 1176.1 253.2 1177.8 250.9C1179.5 248.6 1180.3 245.2 1182.0 242.6C1183.6 239.9 1184.5 237.5 1186.1 237.5C1187.8 237.5 1188.7 237.9 1190.3 240.1C1192.0 242.2 1192.8 245.1 1194.5 248.4C1196.2 251.7 1197.0 253.6 1198.7 256.8C1200.3 259.9 1201.2 262.3 1202.9 264.3C1204.9 266.6 1205.9 265.4 1207.9 267.6C1209.5 269.4 1210.4 271.9 1212.0 274.3C1214.0 277.2 1215.0 278.5 1217.1 281.0C1219.1 283.5 1220.1 285.4 1222.1 286.8C1224.4 288.4 1225.6 288.5 1227.9 288.5C1229.6 288.5 1230.4 282.6 1232.1 281.0C1234.4 279.3 1235.6 279.3 1237.9 279.3C1239.9 279.3 1240.9 279.4 1242.9 280.1C1244.6 280.7 1245.4 282.0 1247.1 282.6C1248.8 283.3 1249.6 283.5 1251.3 283.5C1253.0 283.5 1253.8 282.3 1255.5 281.0C1257.1 279.6 1258.0 278.6 1259.6 276.8C1261.3 275.0 1262.1 274.3 1263.8 271.8C1265.5 269.3 1266.3 264.3 1268.0 264.3C1269.6 264.3 1270.4 273.4 1272.0 273.4C1274.0 273.4 1275.0 273.0 1277.0 271.8C1278.6 270.7 1279.5 269.1 1281.1 267.6C1282.8 266.1 1283.6 264.3 1285.3 264.3C1287.0 264.3 1287.8 266.6 1289.5 268.4C1291.2 270.3 1292.0 271.8 1293.7 273.4C1295.3 275.1 1296.2 275.4 1297.8 276.8C1299.5 278.1 1300.3 279.3 1302.0 280.1C1304.0 281.1 1305.0 280.8 1307.0 281.5C1309.0 282.1 1310.0 282.7 1312.0 283.5C1313.7 284.1 1314.5 284.8 1316.2 284.8C1318.2 284.8 1319.2 284.8 1321.2 284.3C1322.9 283.9 1323.7 283.1 1325.4 282.6C1327.1 282.1 1327.9 281.8 1329.6 281.8C1330.9 281.8 1331.6 281.8 1332.9 282.6C1334.3 283.5 1334.9 286.8 1336.3 287.6C1337.9 288.5 1338.8 288.0 1340.4 288.5C1342.1 289.0 1344.6 290.1 1344.6 290.1" fill="none" stroke="#fe6a35" stroke-width="4" stroke-linejoin="round" stroke-linecap="round"/>
<path d="M76.9 357.2C76.9 357.2 81.8 357.0 85.0 357.0C88.5 357.0 90.2 357.2 93.8 357.2C94.8 357.2 95.2 355.5 96.2 354.8C97.2 354.0 97.8 353.5 98.8 353.5C100.2 353.5 101.0 355.4 102.5 355.4C105.5 355.4 107.0 355.0 110.0 354.8C112.5 354.5 113.8 354.8 116.2 354.1C117.2 353.5 117.8 352.2 118.8 351.6C120.2 350.7 121.0 350.7 122.5 350.4C125.5 349.7 127.0 349.8 130.0 349.1C133.0 348.5 134.5 348.0 137.5 347.2C140.5 346.5 142.0 346.4 145.0 345.4C147.0 344.7 148.0 343.8 150.0 342.9C152.0 342.0 153.0 341.0 155.0 341.0C156.5 341.0 157.2 342.1 158.8 342.5C160.8 342.9 161.8 342.9 163.8 342.9C165.2 342.9 166.0 341.0 167.5 341.0C168.5 341.0 169.0 341.1 170.0 341.6C171.2 342.3 171.9 344.1 173.1 344.1C174.9 344.1 175.8 343.2 177.5 342.9C180.5 342.2 182.0 341.6 185.0 341.6C187.0 341.6 188.0 342.0 190.0 342.2C192.0 342.5 193.0 342.9 195.0 342.9C197.5 342.9 198.8 342.9 201.2 342.5C203.8 342.1 205.0 341.6 207.5 341.0C210.0 340.4 211.2 339.8 213.8 339.8C215.8 339.8 216.8 340.4 218.8 341.0C220.2 341.4 221.0 341.9 222.5 342.2C225.9 342.9 227.6 342.9 231.0 343.5C233.1 343.9 234.2 344.3 236.2 344.8C238.2 345.1 239.2 345.3 241.2 345.5C243.5 345.8 244.6 346.0 246.9 346.0C248.6 346.0 249.5 344.1 251.2 343.2C252.8 342.5 253.5 342.3 255.0 342.0C257.0 341.6 258.0 341.8 260.0 341.4C262.0 341.0 263.0 340.7 265.0 340.1C267.5 339.4 268.8 339.4 271.2 338.2C273.8 337.1 275.0 336.2 277.5 334.5C279.0 333.5 279.8 332.3 281.2 331.4C283.2 330.1 284.2 328.9 286.2 328.9C287.8 328.9 288.5 330.5 290.0 330.5C292.0 330.5 293.0 329.5 295.0 329.5C297.0 329.5 298.0 329.9 300.0 330.1C302.0 330.4 303.0 330.8 305.0 330.8C306.5 330.8 307.2 329.5 308.8 328.2C310.2 327.0 311.0 324.5 312.5 324.5C313.5 324.5 314.0 325.3 315.0 327.0C315.8 328.3 316.1 332.0 316.9 332.0C317.9 332.0 318.4 329.3 319.4 327.6C320.1 326.3 320.5 324.5 321.2 324.5C322.2 324.5 322.8 326.9 323.8 328.2C324.8 329.6 325.2 331.4 326.2 331.4C327.5 331.4 328.1 330.8 329.4 330.8C330.6 330.8 331.2 330.8 332.5 330.8C333.8 330.8 334.4 332.1 335.6 333.2C336.6 334.1 337.1 335.8 338.1 335.8C339.9 335.8 340.8 334.9 342.5 334.5C344.5 334.1 345.5 334.1 347.5 333.9C349.5 333.6 350.5 333.9 352.5 333.2C354.0 332.6 354.8 331.6 356.2 330.8C357.8 329.9 358.5 328.9 360.0 328.9C361.5 328.9 362.2 330.8 363.8 330.8C365.8 330.8 366.8 330.0 368.8 329.5C370.8 329.0 371.8 328.7 373.8 328.2C375.2 327.9 376.0 327.6 377.5 327.6C379.0 327.6 379.8 328.9 381.2 328.9C383.1 328.9 384.1 327.7 386.0 326.4C386.6 325.9 386.9 324.8 387.5 324.4C388.2 323.8 388.6 323.8 389.4 323.8C390.6 323.8 391.2 328.1 392.5 328.1C394.0 328.1 394.8 327.5 396.2 326.9C397.8 326.2 398.5 325.4 400.0 325.0C402.0 324.4 403.0 325.0 405.0 324.4C406.0 323.8 406.5 324.1 407.5 322.5C408.2 321.3 408.6 318.1 409.4 317.5C410.1 316.9 410.5 316.9 411.2 316.9C412.8 316.9 413.5 318.7 415.0 319.4C417.5 320.5 418.8 320.6 421.2 321.2C424.8 322.1 426.5 322.3 430.0 323.1C433.0 323.8 434.5 323.9 437.5 325.0C438.8 325.4 439.4 326.9 440.6 326.9C441.6 326.9 442.1 323.8 443.1 322.5C443.9 321.5 444.2 321.2 445.0 321.2C446.0 321.2 446.5 323.2 447.5 324.4C448.5 325.5 449.0 326.9 450.0 326.9C451.5 326.9 452.2 326.7 453.8 325.6C454.8 324.9 455.2 324.9 456.2 322.5C457.2 320.1 457.8 316.0 458.8 313.8C460.0 311.0 460.6 310.0 461.9 310.0C463.1 310.0 463.8 311.9 465.0 313.8C466.0 315.2 466.5 316.7 467.5 318.1C468.8 319.9 469.4 320.9 470.6 321.9C472.4 323.2 473.2 323.8 475.0 323.8C477.0 323.8 478.0 321.5 480.0 320.6C482.0 319.8 483.0 319.4 485.0 319.4C487.0 319.4 488.0 319.4 490.0 319.8C491.5 320.1 492.2 320.5 493.8 321.2C495.2 322.0 496.0 323.5 497.5 323.5C498.8 323.5 499.4 323.1 500.6 321.2C501.6 319.7 502.1 317.5 503.1 315.0C504.1 312.5 504.6 310.9 505.6 308.8C506.8 306.3 507.4 303.5 508.5 303.5C509.6 303.5 510.1 304.4 511.2 305.6C512.5 307.0 513.1 308.1 514.4 310.0C515.6 311.9 516.2 313.0 517.5 315.0C518.8 317.0 519.4 318.4 520.6 320.0C521.6 321.3 522.1 322.2 523.1 322.2C524.9 322.2 525.8 321.4 527.5 320.6C529.0 320.0 529.8 320.1 531.2 318.8C532.8 317.4 533.5 315.9 535.0 313.8C536.2 312.0 536.9 309.0 538.1 309.0C539.1 309.0 539.6 310.7 540.6 312.5C541.1 313.4 541.4 315.6 541.9 315.6C543.6 315.6 544.5 315.6 546.2 315.6C548.1 315.6 549.1 316.2 551.0 316.2C551.0 316.2 551.0 314.4 551.1 314.3C552.7 310.9 553.6 310.4 555.3 307.6C557.1 304.7 558.0 300.1 559.8 300.1C561.6 300.1 562.6 304.3 564.4 304.3C566.1 304.3 566.9 300.2 568.6 298.5C570.3 296.7 571.1 295.8 572.8 295.5C574.5 295.1 575.3 295.5 577.0 295.1C578.5 294.8 579.3 292.6 580.8 292.6C582.3 292.6 583.0 297.5 584.5 298.1C586.2 298.8 587.0 298.1 588.7 298.8C589.5 299.5 590.0 303.1 590.8 304.3C592.0 305.9 592.5 306.0 593.7 306.0C595.3 306.0 596.2 299.3 597.8 299.3C599.8 299.3 600.9 299.3 602.9 299.3C604.5 299.3 605.4 297.0 607.0 294.3C608.7 291.6 609.5 288.4 611.2 285.9C613.2 283.0 614.2 280.9 616.2 280.9C618.2 280.9 619.2 281.5 621.2 282.6C622.9 283.5 623.7 283.6 625.4 285.9C627.1 288.3 627.9 291.8 629.6 294.3C631.2 296.8 632.1 298.5 633.8 298.5C635.4 298.5 636.3 296.8 637.9 296.8C639.6 296.8 640.4 299.3 642.1 300.1C644.4 301.0 645.6 300.7 648.0 301.0C650.3 301.2 651.5 301.0 653.8 301.5C655.5 302.0 656.3 308.5 658.0 309.3C659.3 310.2 660.0 310.2 661.3 310.2C663.3 310.2 664.3 305.5 666.3 303.5C668.3 301.5 669.3 300.1 671.3 300.1C673.3 300.1 674.3 300.1 676.3 300.5C678.0 300.8 678.9 303.5 680.5 304.3C682.2 305.1 683.0 304.5 684.7 305.1C686.4 305.8 687.2 307.6 688.9 307.6C690.5 307.6 691.4 304.3 693.1 304.3C694.4 304.3 695.1 304.3 696.4 305.1C698.4 306.0 699.4 310.2 701.4 310.2C703.1 310.2 703.9 309.3 705.6 308.5C707.2 307.6 708.1 306.0 709.8 306.0C711.4 306.0 712.3 309.8 713.9 309.8C715.9 309.8 716.9 306.7 718.9 305.1C720.6 303.8 721.4 302.6 723.1 302.6C724.1 302.6 724.6 308.7 725.6 310.2C728.0 313.6 729.1 310.7 731.5 315.0C732.6 317.0 733.1 326.0 734.2 326.0C735.9 326.0 736.7 325.4 738.4 325.1C740.4 324.8 741.4 324.3 743.4 324.3C745.1 324.3 745.9 330.1 747.6 330.1C748.9 330.1 749.6 322.9 750.9 320.9C752.9 317.9 753.9 318.6 755.9 317.6C757.9 316.6 758.9 315.9 760.9 315.9C762.6 315.9 763.4 320.9 765.1 320.9C766.8 320.9 767.6 317.4 769.3 315.1C770.9 312.8 771.8 309.3 773.4 309.3C775.1 309.3 776.0 315.9 777.6 315.9C779.6 315.9 780.6 315.9 782.6 315.9C784.3 315.9 785.1 313.4 786.8 313.4C788.5 313.4 789.3 314.3 791.0 314.3C792.7 314.3 793.5 310.1 795.2 310.1C796.5 310.1 797.2 315.1 798.5 315.9C800.5 316.8 801.5 316.3 803.5 316.8C805.5 317.3 806.5 317.4 808.5 318.4C811.2 319.8 812.5 322.6 815.2 322.6C817.2 322.6 818.2 318.4 820.2 318.4C822.2 318.4 823.2 320.3 825.2 320.9C827.2 321.6 828.2 320.9 830.2 321.8C831.9 322.6 832.7 326.0 834.4 326.0C835.8 326.0 836.4 320.1 837.8 320.1C839.4 320.1 840.3 326.0 841.9 326.0C843.6 326.0 844.4 326.0 846.1 324.3C847.8 322.6 848.6 319.4 850.3 316.8C852.0 314.1 852.8 310.9 854.5 310.9C856.1 310.9 857.0 315.6 858.6 318.4C860.3 321.3 861.1 322.6 862.8 325.1C864.5 327.6 865.3 331.0 867.0 331.0C868.7 331.0 869.5 326.0 871.2 323.4C873.2 320.4 874.2 316.8 876.2 316.8C877.8 316.8 878.7 319.7 880.3 321.8C882.4 324.3 883.4 327.6 885.4 328.5C887.4 329.3 888.4 329.3 890.4 329.3C893.0 329.3 894.4 329.3 897.1 328.5C898.7 327.6 899.6 324.0 901.2 321.8C902.9 319.6 903.7 317.6 905.4 317.6C907.1 317.6 907.9 321.9 909.6 324.3C911.6 327.2 912.6 329.0 914.6 331.0C915.9 332.3 916.6 332.6 917.9 332.6C919.6 332.6 920.4 328.2 922.1 326.0C924.1 323.2 925.1 322.5 927.1 320.1C928.8 318.1 929.6 316.8 931.3 315.1C932.6 313.8 933.3 312.6 934.6 312.6C936.0 312.6 936.6 317.6 938.0 319.3C939.6 320.9 940.5 320.2 942.1 320.9C944.5 321.9 945.7 321.7 948.0 323.4C948.3 323.7 948.4 325.4 948.8 325.8C950.2 327.6 951.0 328.0 952.5 328.9C954.2 330.0 955.1 330.8 956.9 330.8C958.6 330.8 959.5 330.0 961.2 328.9C963.0 327.8 963.9 325.1 965.6 325.1C966.9 325.1 967.5 327.5 968.8 328.9C970.2 330.5 971.0 331.4 972.5 332.6C974.0 333.9 974.8 335.1 976.2 335.1C977.2 335.1 977.8 334.6 978.8 333.9C979.5 333.3 979.9 332.6 980.6 332.0C981.9 331.1 982.5 330.7 983.8 330.1C985.2 329.4 986.0 330.0 987.5 328.9C989.0 327.8 989.8 326.1 991.2 324.5C992.8 322.9 993.5 320.8 995.0 320.8C996.5 320.8 997.2 320.8 998.8 320.8C1000.2 320.8 1001.0 322.8 1002.5 324.5C1004.5 326.8 1005.5 330.8 1007.5 330.8C1009.0 330.8 1009.8 328.0 1011.2 326.4C1013.2 324.2 1014.2 323.2 1016.2 321.4C1018.2 319.5 1019.2 318.9 1021.2 317.0C1023.2 315.1 1024.2 314.6 1026.2 312.0C1027.3 310.6 1027.9 306.9 1029.0 306.9C1030.2 306.9 1030.7 309.6 1031.9 311.2C1033.4 313.4 1034.1 314.6 1035.6 316.2C1036.9 317.6 1037.5 318.8 1038.8 318.8C1040.8 318.8 1041.8 318.5 1043.8 318.1C1046.2 317.7 1047.5 316.9 1050.0 316.9C1052.0 316.9 1053.0 317.3 1055.0 318.1C1055.3 318.3 1055.5 319.1 1055.9 319.3C1057.9 320.2 1058.9 320.3 1060.9 320.9C1062.2 321.3 1062.9 321.8 1064.2 321.8C1065.6 321.8 1066.2 318.4 1067.6 318.4C1069.2 318.4 1070.1 320.5 1071.7 321.8C1073.1 322.8 1073.7 324.3 1075.1 324.3C1077.1 324.3 1078.1 322.1 1080.1 320.1C1081.8 318.4 1082.6 315.1 1084.3 315.1C1086.3 315.1 1087.3 316.1 1089.3 317.6C1090.9 318.8 1091.8 320.9 1093.4 321.8C1095.1 322.6 1096.0 322.6 1097.6 322.6C1099.3 322.6 1100.1 319.3 1101.8 317.6C1103.5 315.9 1104.3 315.9 1106.0 314.3C1107.6 312.6 1108.5 309.3 1110.2 309.3C1111.5 309.3 1112.2 314.3 1113.5 314.3C1115.2 314.3 1116.0 308.0 1117.7 305.9C1119.7 303.4 1120.7 302.6 1122.7 302.6C1124.3 302.6 1125.2 307.4 1126.9 309.3C1128.5 311.1 1129.4 311.8 1131.0 311.8C1132.7 311.8 1133.5 308.4 1135.2 305.9C1136.9 303.4 1137.7 299.2 1139.4 299.2C1141.1 299.2 1141.9 301.4 1143.6 302.6C1145.6 304.0 1146.6 304.4 1148.6 305.9C1150.6 307.4 1151.6 308.6 1153.6 310.1C1155.6 311.6 1156.6 311.8 1158.6 313.4C1160.6 315.1 1161.6 316.6 1163.6 318.4C1165.3 320.0 1166.1 321.8 1167.8 321.8C1169.1 321.8 1169.8 321.8 1171.1 320.1C1172.8 318.4 1173.6 314.6 1175.3 311.8C1177.0 308.9 1177.8 308.1 1179.5 305.9C1181.1 303.7 1182.0 303.7 1183.6 300.9C1185.3 298.1 1186.1 295.1 1187.8 291.7C1189.0 289.3 1189.6 286.4 1190.8 286.4C1192.3 286.4 1193.0 290.8 1194.5 293.4C1196.2 296.3 1197.0 300.1 1198.7 300.1C1201.0 300.1 1202.2 298.9 1204.5 298.1C1206.9 297.2 1208.0 297.2 1210.4 295.9C1213.0 294.4 1214.4 290.9 1217.1 290.9C1219.4 290.9 1220.6 292.0 1222.9 293.0C1225.2 294.1 1226.4 295.9 1228.7 295.9C1230.4 295.9 1231.2 292.5 1232.9 292.5C1234.6 292.5 1235.4 292.5 1237.1 292.5C1238.8 292.5 1239.6 295.9 1241.3 297.6C1243.3 299.6 1244.3 301.7 1246.3 301.7C1248.3 301.7 1249.3 300.8 1251.3 300.4C1253.0 300.1 1253.8 300.1 1255.5 300.1C1257.1 300.1 1258.0 301.9 1259.6 303.4C1261.3 304.9 1262.1 305.9 1263.8 307.6C1265.5 309.3 1266.3 309.9 1268.0 311.8C1269.3 313.2 1269.9 314.8 1271.2 315.8C1273.2 317.2 1274.2 316.6 1276.2 317.6C1277.8 318.4 1278.5 319.1 1280.0 320.1C1281.5 321.1 1282.2 321.9 1283.8 322.6C1284.8 323.1 1285.2 323.2 1286.2 323.2C1286.8 323.2 1287.0 319.5 1287.5 318.2C1288.2 317.0 1288.6 317.0 1289.4 317.0C1290.6 317.0 1291.2 319.1 1292.5 320.1C1294.0 321.4 1294.8 322.6 1296.2 322.6C1297.8 322.6 1298.5 319.9 1300.0 318.9C1301.5 317.9 1302.2 318.4 1303.8 317.6C1305.2 316.9 1306.0 316.5 1307.5 315.1C1308.5 314.2 1309.0 313.9 1310.0 312.0C1312.2 307.9 1313.2 303.8 1315.4 300.0C1317.1 297.1 1317.9 297.1 1319.6 295.2C1320.7 293.8 1321.3 291.8 1322.4 291.8C1324.3 291.8 1325.2 294.3 1327.1 294.3C1328.7 294.3 1329.6 293.5 1331.2 293.5C1332.6 293.5 1333.3 295.5 1334.6 296.8C1335.9 298.1 1336.6 298.7 1337.9 300.0C1339.3 301.3 1339.9 302.3 1341.3 303.5C1342.6 304.7 1344.6 306.2 1344.6 306.2" fill="none" stroke="#6b8abc" stroke-width="4" stroke-linejoin="round" stroke-linecap="round"/>
<path d="M76.9 346.9C76.9 346.9 79.5 345.0 81.2 345.0C83.2 345.0 84.2 345.0 86.2 345.2C88.8 345.5 90.0 346.0 92.5 346.5C94.5 346.9 95.5 347.1 97.5 347.5C99.0 347.8 99.8 348.1 101.2 348.1C102.2 348.1 102.8 348.1 103.8 346.9C104.2 345.6 104.5 344.2 105.0 342.5C105.8 339.9 106.1 336.9 106.9 336.2C107.6 335.6 108.0 335.6 108.8 335.6C109.2 335.6 109.5 338.8 110.0 341.2C110.5 343.8 110.8 347.5 111.2 348.1C112.8 348.8 113.5 348.4 115.0 348.8C117.0 349.2 118.0 350.0 120.0 350.0C122.5 350.0 123.8 348.1 126.2 348.1C128.2 348.1 129.2 350.0 131.2 350.0C132.8 350.0 133.5 350.0 135.0 348.8C135.5 347.5 135.8 345.0 136.2 343.8C137.8 342.5 138.5 342.5 140.0 342.5C142.0 342.5 143.0 343.1 145.0 343.1C146.5 343.1 147.2 341.4 148.8 340.0C150.2 338.6 151.0 337.2 152.5 336.2C154.0 335.2 154.8 335.6 156.2 335.0C157.2 334.6 157.8 333.8 158.8 333.8C160.2 333.8 161.0 333.9 162.5 334.4C164.0 334.9 164.8 336.2 166.2 336.2C167.2 336.2 167.8 333.9 168.8 332.8C169.7 331.7 170.1 330.6 171.0 330.6C171.8 330.6 172.3 331.7 173.1 333.8C173.6 335.0 173.9 336.9 174.4 338.8C174.9 340.6 175.1 342.5 175.6 343.1C176.9 343.8 177.5 343.8 178.8 343.8C180.8 343.8 181.8 343.3 183.8 343.1C186.2 342.8 187.5 342.5 190.0 342.5C191.5 342.5 192.2 343.8 193.8 343.8C195.2 343.8 196.0 343.5 197.5 343.5C199.0 343.5 199.8 344.4 201.2 344.4C202.8 344.4 203.5 344.4 205.0 343.8C206.5 343.1 207.2 341.9 208.8 341.2C210.2 340.6 211.0 340.6 212.5 340.6C214.5 340.6 215.5 341.2 217.5 341.9C218.5 342.2 219.0 342.4 220.0 343.1C221.5 344.2 222.2 345.4 223.8 346.2C225.2 347.1 226.0 347.5 227.5 347.5C228.9 347.5 229.6 346.9 231.0 346.9C233.1 346.9 234.2 346.9 236.2 347.0C238.2 347.1 239.2 348.2 241.2 348.9C243.2 349.5 244.2 350.1 246.2 350.1C247.8 350.1 248.5 350.1 250.0 349.5C251.0 348.9 251.5 347.7 252.5 347.0C254.5 345.7 255.5 344.5 257.5 344.5C259.5 344.5 260.5 344.9 262.5 345.1C264.5 345.4 265.5 345.2 267.5 345.8C269.5 346.2 270.5 347.1 272.5 347.6C274.5 348.1 275.5 348.2 277.5 348.2C279.0 348.2 279.8 347.7 281.2 346.4C282.0 345.7 282.4 343.8 283.1 343.2C284.9 342.0 285.8 342.0 287.5 342.0C289.5 342.0 290.5 342.4 292.5 342.6C294.5 342.9 295.5 343.0 297.5 343.2C299.5 343.5 300.5 343.2 302.5 343.9C304.0 344.5 304.8 345.8 306.2 346.4C307.8 347.0 308.5 347.0 310.0 347.0C311.5 347.0 312.2 346.2 313.8 345.8C315.2 345.2 316.0 344.5 317.5 344.5C319.5 344.5 320.5 344.5 322.5 344.8C324.0 345.0 324.8 345.1 326.2 345.8C327.5 346.3 328.1 347.6 329.4 347.6C330.4 347.6 330.9 346.9 331.9 345.8C332.6 344.9 333.0 343.2 333.8 342.6C336.2 342.0 337.5 342.5 340.0 342.0C342.5 341.5 343.8 341.1 346.2 340.1C348.2 339.3 349.2 338.6 351.2 337.6C352.8 336.9 353.5 336.4 355.0 335.8C357.0 334.9 358.0 334.7 360.0 333.9C361.5 333.2 362.2 333.0 363.8 332.0C365.2 331.0 366.0 328.9 367.5 328.9C369.0 328.9 369.8 330.2 371.2 330.8C373.2 331.5 374.2 331.1 376.2 332.0C377.8 332.6 378.5 333.9 380.0 334.5C382.4 335.4 383.6 335.2 386.0 335.8C386.6 335.9 386.9 336.2 387.5 336.2C389.5 336.2 390.5 336.2 392.5 336.2C395.0 336.2 396.2 336.2 398.8 335.6C400.2 335.3 401.0 334.0 402.5 334.0C404.0 334.0 404.8 335.2 406.2 335.6C407.8 336.1 408.5 335.6 410.0 336.2C412.0 336.9 413.0 340.0 415.0 340.0C417.5 340.0 418.8 337.5 421.2 336.2C423.2 335.2 424.2 334.9 426.2 334.4C428.2 333.9 429.2 333.8 431.2 333.8C433.2 333.8 434.2 334.8 436.2 334.8C437.8 334.8 438.5 334.3 440.0 333.8C441.5 333.2 442.2 331.9 443.8 331.9C445.2 331.9 446.0 332.7 447.5 333.8C448.5 334.4 449.0 336.2 450.0 336.2C451.5 336.2 452.2 334.5 453.8 333.8C455.2 333.0 456.0 333.4 457.5 332.5C459.0 331.6 459.8 330.2 461.2 329.4C463.2 328.2 464.2 328.0 466.2 327.5C468.2 327.0 469.2 326.9 471.2 326.9C473.2 326.9 474.2 327.5 476.2 327.5C477.8 327.5 478.5 327.5 480.0 326.9C481.2 326.2 481.9 323.8 483.1 323.8C484.4 323.8 485.0 324.7 486.2 326.2C487.2 327.5 487.8 329.0 488.8 330.6C489.8 332.2 490.2 334.4 491.2 334.4C492.8 334.4 493.5 334.0 495.0 333.8C497.0 333.5 498.0 333.1 500.0 333.1C502.0 333.1 503.0 333.8 505.0 333.8C505.8 333.8 506.1 331.6 506.9 330.6C507.6 329.6 508.0 328.8 508.8 328.8C509.8 328.8 510.2 329.7 511.2 331.2C512.0 332.4 512.4 334.5 513.1 335.6C513.9 336.8 514.2 336.5 515.0 336.9C517.5 338.0 518.8 338.6 521.2 339.4C524.2 340.3 525.8 340.4 528.8 341.2C530.0 341.6 530.6 342.5 531.9 342.5C533.1 342.5 533.8 341.8 535.0 341.2C536.5 340.6 537.2 339.4 538.8 339.4C540.2 339.4 541.0 340.0 542.5 340.6C544.5 341.5 545.5 342.4 547.5 343.1C548.9 343.6 549.6 343.4 551.0 343.8C552.6 344.2 553.4 344.5 555.0 345.2C556.5 346.0 557.2 347.4 558.8 347.4C559.8 347.4 560.2 346.8 561.2 346.1C562.2 345.5 562.8 345.5 563.8 344.2C565.0 342.7 565.6 340.8 566.9 339.2C567.9 338.0 568.4 337.4 569.4 337.4C570.4 337.4 570.9 340.3 571.9 341.8C573.1 343.6 573.8 344.4 575.0 345.5C576.5 346.8 577.2 347.8 578.8 347.8C580.8 347.8 581.8 347.8 583.8 347.8C585.8 347.8 586.8 347.8 588.8 346.8C589.5 345.8 589.9 341.1 590.6 341.1C591.6 341.1 592.1 344.3 593.1 345.5C594.4 347.0 595.0 348.0 596.2 348.0C597.8 348.0 598.5 347.3 600.0 345.5C601.0 344.3 601.5 341.7 602.5 340.5C604.0 338.6 604.8 337.8 606.2 337.8C607.2 337.8 607.8 338.6 608.8 339.2C610.0 340.0 610.6 341.1 611.9 341.1C613.6 341.1 614.5 341.1 616.2 340.5C617.8 339.9 618.5 339.2 620.0 337.4C621.0 336.2 621.5 334.3 622.5 333.0C623.8 331.3 624.4 329.9 625.6 329.9C626.6 329.9 627.1 330.9 628.1 332.4C629.4 334.2 630.0 335.6 631.2 338.0C632.2 339.9 632.8 341.2 633.8 343.0C634.8 344.8 635.2 345.8 636.2 346.8C638.8 347.8 640.0 347.4 642.5 347.8C645.0 348.1 646.2 348.3 648.8 348.6C651.2 348.9 652.5 349.2 655.0 349.2C657.5 349.2 658.8 349.2 661.2 348.6C662.2 348.0 662.8 346.8 663.8 345.5C664.8 344.2 665.2 342.4 666.2 342.4C667.2 342.4 667.8 343.8 668.8 344.9C669.8 346.0 670.2 347.4 671.2 348.0C672.8 348.6 673.5 348.6 675.0 348.6C677.5 348.6 678.8 348.1 681.2 347.8C683.8 347.4 685.0 347.4 687.5 346.8C689.5 346.2 690.5 345.6 692.5 344.9C694.5 344.1 695.5 343.6 697.5 343.0C699.5 342.4 700.5 342.3 702.5 342.0C704.5 341.7 705.5 341.7 707.5 341.5C709.5 341.3 710.5 341.1 712.5 341.1C713.9 341.1 714.6 341.1 716.0 341.8C716.6 342.4 716.9 343.9 717.5 343.9C720.5 343.9 722.0 342.0 725.0 342.0C728.0 342.0 729.5 342.0 732.5 342.6C733.8 343.2 734.4 345.1 735.6 345.1C736.9 345.1 737.5 343.2 738.8 342.6C741.2 342.0 742.5 342.0 745.0 342.0C748.0 342.0 749.5 342.0 752.5 342.0C754.0 342.0 754.8 342.6 756.2 342.6C757.8 342.6 758.5 342.6 760.0 342.6C761.5 342.6 762.2 342.3 763.8 340.1C764.5 339.0 764.9 336.1 765.6 334.5C766.6 332.4 767.1 331.7 768.1 330.8C769.9 329.2 770.8 328.9 772.5 328.2C774.5 327.5 775.5 327.2 777.5 327.2C779.0 327.2 779.8 328.2 781.2 328.9C783.0 329.6 783.9 329.6 785.6 330.8C786.6 331.4 787.1 331.8 788.1 333.2C788.9 334.3 789.2 335.6 790.0 337.0C790.8 338.4 791.1 339.5 791.9 340.1C795.1 340.8 796.8 340.8 800.0 340.8C802.5 340.8 803.8 339.5 806.2 338.9C808.8 338.2 810.0 338.0 812.5 337.6C815.5 337.2 817.0 337.0 820.0 337.0C822.0 337.0 823.0 337.6 825.0 337.6C828.0 337.6 829.5 337.0 832.5 337.0C834.5 337.0 835.5 337.0 837.5 337.0C840.0 337.0 841.2 336.8 843.8 336.4C846.2 336.0 847.5 335.7 850.0 335.1C852.0 334.7 853.0 333.9 855.0 333.9C857.0 333.9 858.0 334.5 860.0 334.5C862.0 334.5 863.0 334.5 865.0 334.5C867.4 334.5 868.6 333.9 871.0 333.9C871.6 333.9 871.9 334.4 872.5 334.8C875.0 335.1 876.2 335.1 878.8 335.1C881.2 335.1 882.5 334.4 885.0 333.9C887.0 333.4 888.0 332.6 890.0 332.6C891.5 332.6 892.2 333.0 893.8 333.9C895.2 334.8 896.0 336.0 897.5 337.0C899.0 338.0 899.8 338.9 901.2 338.9C902.5 338.9 903.1 338.4 904.4 337.6C905.6 336.9 906.2 335.8 907.5 335.1C909.0 334.3 909.8 333.9 911.2 333.9C912.8 333.9 913.5 334.2 915.0 334.5C916.5 334.8 917.2 335.1 918.8 335.1C919.8 335.1 920.2 331.4 921.2 330.1C922.2 328.9 922.8 328.9 923.8 328.9C924.8 328.9 925.2 331.4 926.2 331.4C927.2 331.4 927.8 328.9 928.8 327.6C929.8 326.4 930.2 325.1 931.2 325.1C932.2 325.1 932.8 326.5 933.8 327.6C935.2 329.3 936.0 330.4 937.5 332.0C939.0 333.6 939.8 334.8 941.2 335.8C942.8 336.8 943.5 337.0 945.0 337.0C946.2 337.0 946.9 335.1 948.1 335.1C949.4 335.1 950.0 336.8 951.2 337.6C952.8 338.6 953.5 339.0 955.0 339.5C956.5 340.0 957.2 340.1 958.8 340.1C960.2 340.1 961.0 339.4 962.5 338.2C964.0 337.1 964.8 335.9 966.2 334.5C967.8 333.1 968.5 332.0 970.0 331.4C971.5 330.8 972.2 330.8 973.8 330.8C975.0 330.8 975.6 332.0 976.9 333.2C978.1 334.5 978.8 336.0 980.0 337.0C981.5 338.2 982.2 338.9 983.8 338.9C985.2 338.9 986.0 338.1 987.5 337.6C989.0 337.1 989.8 336.8 991.2 336.4C992.8 336.0 993.5 335.8 995.0 335.8C996.5 335.8 997.2 336.9 998.8 337.6C1000.8 338.6 1001.8 339.5 1003.8 340.1C1006.2 341.0 1007.5 341.0 1010.0 341.4C1012.5 341.8 1013.8 342.0 1016.2 342.0C1018.2 342.0 1019.2 341.0 1021.2 340.1C1022.8 339.5 1023.5 338.2 1025.0 338.2C1026.2 338.2 1026.9 340.5 1028.1 341.4C1029.3 342.2 1029.8 342.6 1031.0 342.6C1032.1 342.6 1032.7 342.2 1033.8 341.4C1035.2 340.2 1036.0 338.7 1037.5 337.6C1038.8 336.7 1039.4 336.4 1040.6 336.4C1041.9 336.4 1042.5 338.2 1043.8 338.2C1045.2 338.2 1046.0 338.1 1047.5 337.6C1049.0 337.1 1049.8 336.4 1051.2 335.8C1052.8 335.1 1053.5 334.5 1055.0 334.5C1056.5 334.5 1057.2 335.5 1058.8 336.4C1060.2 337.2 1061.0 337.9 1062.5 338.9C1064.0 339.9 1064.8 341.4 1066.2 341.4C1067.8 341.4 1068.5 340.6 1070.0 340.1C1071.5 339.7 1072.2 339.2 1073.8 339.2C1075.2 339.2 1076.0 340.1 1077.5 340.1C1079.0 340.1 1079.8 340.1 1081.2 340.1C1082.8 340.1 1083.5 340.1 1085.0 340.1C1086.5 340.1 1087.2 339.2 1088.8 338.9C1090.8 338.4 1091.8 338.2 1093.8 338.2C1095.2 338.2 1096.0 338.9 1097.5 338.9C1099.0 338.9 1099.8 337.4 1101.2 336.4C1102.8 335.4 1103.5 333.9 1105.0 333.9C1106.5 333.9 1107.2 334.8 1108.8 335.8C1110.2 336.8 1111.0 338.9 1112.5 338.9C1113.8 338.9 1114.4 338.1 1115.6 337.6C1116.9 337.1 1117.5 336.4 1118.8 336.4C1120.2 336.4 1121.0 337.9 1122.5 338.9C1124.0 339.9 1124.8 340.6 1126.2 341.4C1127.8 342.1 1128.5 342.6 1130.0 342.6C1131.5 342.6 1132.2 341.5 1133.8 340.8C1135.2 340.0 1136.0 338.9 1137.5 338.9C1138.5 338.9 1139.0 338.9 1140.0 338.9C1141.5 338.9 1142.2 340.8 1143.8 340.8C1145.2 340.8 1146.0 340.8 1147.5 340.8C1149.0 340.8 1149.8 342.6 1151.2 342.6C1152.5 342.6 1153.1 342.6 1154.4 342.6C1155.6 342.6 1156.2 339.0 1157.5 337.6C1159.0 336.0 1159.8 335.1 1161.2 335.1C1162.8 335.1 1163.5 335.1 1165.0 335.1C1166.5 335.1 1167.2 335.1 1168.8 335.1C1170.0 335.1 1170.6 333.6 1171.9 332.6C1172.6 332.1 1173.0 331.4 1173.8 331.4C1174.8 331.4 1175.2 332.6 1176.2 333.2C1177.8 334.3 1178.5 334.9 1180.0 335.8C1181.5 336.6 1182.2 336.8 1183.8 337.6C1185.2 338.5 1186.0 339.3 1187.5 340.1C1188.9 340.8 1189.6 341.4 1191.0 341.4C1192.6 341.4 1193.4 340.2 1195.0 338.9C1196.5 337.7 1197.2 336.4 1198.8 335.1C1200.2 333.9 1201.0 333.4 1202.5 332.6C1204.0 331.9 1204.8 331.4 1206.2 331.4C1208.2 331.4 1209.2 331.4 1211.2 331.4C1213.0 331.4 1213.9 333.2 1215.6 333.2C1217.4 333.2 1218.2 332.0 1220.0 332.0C1221.5 332.0 1222.2 333.2 1223.8 333.9C1225.8 334.7 1226.8 335.8 1228.8 335.8C1230.2 335.8 1231.0 333.7 1232.5 332.6C1234.2 331.4 1235.1 330.1 1236.9 330.1C1237.9 330.1 1238.4 331.8 1239.4 332.6C1240.6 333.6 1241.2 334.5 1242.5 334.5C1244.0 334.5 1244.8 334.0 1246.2 333.2C1247.8 332.5 1248.5 332.0 1250.0 330.8C1251.5 329.5 1252.2 328.1 1253.8 327.0C1255.2 325.9 1256.0 325.1 1257.5 325.1C1259.5 325.1 1260.5 325.1 1262.5 325.1C1264.0 325.1 1264.8 326.7 1266.2 327.6C1267.2 328.2 1267.8 328.9 1268.8 328.9C1270.0 328.9 1270.6 328.2 1271.9 326.4C1272.9 324.9 1273.4 322.5 1274.4 320.8C1275.1 319.5 1275.5 318.9 1276.2 318.9C1277.2 318.9 1277.8 319.9 1278.8 320.8C1280.2 322.1 1281.0 323.1 1282.5 324.5C1284.0 325.9 1284.8 326.6 1286.2 327.6C1287.2 328.3 1287.8 328.9 1288.8 328.9C1290.2 328.9 1291.0 327.6 1292.5 327.6C1294.5 327.6 1295.5 327.6 1297.5 327.6C1298.8 327.6 1299.4 330.8 1300.6 330.8C1302.4 330.8 1303.2 330.8 1305.0 330.8C1307.0 330.8 1308.0 332.0 1310.0 332.0C1312.0 332.0 1313.0 331.8 1315.0 331.4C1316.5 331.1 1317.2 330.1 1318.8 330.1C1320.2 330.1 1321.0 330.1 1322.5 330.1C1323.8 330.1 1324.4 331.9 1325.6 332.6C1326.9 333.4 1327.5 333.9 1328.8 333.9C1330.2 333.9 1331.0 333.9 1332.5 333.9C1333.8 333.9 1334.4 333.9 1335.6 333.9C1336.5 333.9 1336.9 331.6 1337.8 330.8C1338.7 329.8 1339.1 329.5 1340.0 329.5C1341.0 329.5 1341.5 330.1 1342.5 330.8C1343.5 331.4 1345.0 332.6 1345.0 332.6" fill="none" stroke="#d568fb" stroke-width="4" stroke-linejoin="round" stroke-linecap="round"/>
<path d="M555.6 359.5C555.6 359.5 559.0 359.5 561.2 359.2C562.8 359.1 563.5 358.5 565.0 358.5C569.5 358.5 571.8 358.5 576.2 358.6C580.8 358.7 583.0 359.0 587.5 359.0C591.5 359.0 593.5 358.6 597.5 358.6C600.5 358.6 602.0 359.0 605.0 359.0C607.5 359.0 608.8 358.9 611.2 358.0C614.2 357.0 615.8 355.5 618.8 354.2C620.2 353.6 621.0 353.5 622.5 353.2C624.5 353.0 625.5 353.2 627.5 353.0C629.0 352.8 629.8 350.8 631.2 349.9C632.8 349.0 633.5 348.6 635.0 348.6C637.0 348.6 638.0 351.5 640.0 352.4C642.0 353.2 643.0 353.2 645.0 353.2C647.5 353.2 648.8 353.2 651.2 353.2C653.8 353.2 655.0 353.1 657.5 352.8C660.0 352.5 661.2 352.1 663.8 351.8C666.2 351.4 667.5 351.1 670.0 351.1C672.5 351.1 673.8 351.1 676.2 351.1C678.2 351.1 679.2 349.9 681.2 349.9C683.2 349.9 684.2 351.1 686.2 351.1C687.8 351.1 688.5 351.1 690.0 351.1C692.0 351.1 693.0 350.5 695.0 349.2C696.5 348.3 697.2 346.6 698.8 345.5C700.2 344.4 701.0 344.1 702.5 343.6C704.5 343.1 705.5 343.0 707.5 343.0C709.0 343.0 709.8 343.0 711.2 343.0C713.1 343.0 714.1 344.5 716.0 345.5C716.6 345.8 716.9 346.4 717.5 346.4C719.0 346.4 719.8 345.2 721.2 344.8C722.8 344.2 723.5 343.9 725.0 343.9C727.0 343.9 728.0 343.9 730.0 344.5C731.2 345.1 731.9 346.2 733.1 347.0C734.1 347.7 734.6 348.2 735.6 348.2C736.4 348.2 736.8 345.1 737.5 343.9C738.5 342.6 739.0 342.6 740.0 342.6C741.0 342.6 741.5 344.1 742.5 345.1C743.2 345.9 743.6 347.0 744.4 347.0C745.4 347.0 745.9 343.9 746.9 343.2C747.6 342.6 748.0 342.6 748.8 342.6C749.5 342.6 749.9 344.8 750.6 345.8C751.4 346.8 751.8 347.0 752.5 347.6C754.5 348.2 755.5 348.2 757.5 348.2C759.5 348.2 760.5 347.9 762.5 347.6C764.0 347.4 764.8 347.4 766.2 347.0C767.8 346.6 768.5 346.5 770.0 345.8C771.5 345.0 772.2 343.9 773.8 343.2C775.2 342.6 776.0 342.6 777.5 342.6C779.5 342.6 780.5 343.0 782.5 343.2C784.0 343.5 784.8 343.9 786.2 343.9C787.8 343.9 788.5 343.2 790.0 343.2C792.0 343.2 793.0 343.2 795.0 343.2C796.5 343.2 797.2 343.9 798.8 344.5C800.2 345.1 801.0 345.9 802.5 346.4C804.5 346.9 805.5 347.0 807.5 347.0C809.5 347.0 810.5 346.4 812.5 346.4C815.0 346.4 816.2 346.4 818.8 346.4C821.2 346.4 822.5 346.0 825.0 345.8C827.0 345.5 828.0 345.1 830.0 345.1C832.0 345.1 833.0 345.1 835.0 345.1C837.0 345.1 838.0 343.2 840.0 343.2C842.0 343.2 843.0 343.2 845.0 343.2C847.0 343.2 848.0 342.8 850.0 342.6C852.5 342.3 853.8 342.2 856.2 342.0C858.8 341.8 860.0 342.0 862.5 341.8C865.9 341.5 867.6 340.7 871.0 340.1C874.1 339.6 875.6 338.9 878.8 338.9C881.2 338.9 882.5 338.9 885.0 338.9C887.5 338.9 888.8 340.5 891.2 341.4C893.8 342.2 895.0 342.4 897.5 343.2C899.5 343.9 900.5 344.0 902.5 345.1C904.0 345.9 904.8 347.2 906.2 348.0C907.8 348.8 908.5 348.9 910.0 348.9C912.0 348.9 913.0 348.6 915.0 348.2C917.0 347.9 918.0 347.8 920.0 347.0C922.0 346.2 923.0 344.5 925.0 344.5C927.0 344.5 928.0 345.0 930.0 345.8C932.0 346.5 933.0 346.9 935.0 348.2C937.0 349.6 938.0 351.2 940.0 352.2C943.0 353.2 944.5 352.7 947.5 353.2C949.5 353.6 950.5 354.0 952.5 354.5C954.5 355.0 955.5 355.8 957.5 355.8C959.5 355.8 960.5 355.7 962.5 355.1C964.0 354.7 964.8 353.9 966.2 353.2C967.8 352.6 968.5 352.2 970.0 352.0C972.5 351.8 973.8 351.8 976.2 351.8C979.8 351.8 981.5 351.8 985.0 351.8C987.5 351.8 988.8 351.8 991.2 351.8C993.8 351.8 995.0 352.2 997.5 352.2C1000.0 352.2 1001.2 352.2 1003.8 352.0C1006.2 351.8 1007.5 351.0 1010.0 351.0C1012.5 351.0 1013.8 351.0 1016.2 351.4C1018.8 351.8 1020.0 352.3 1022.5 353.2C1024.5 354.0 1025.5 355.0 1027.5 355.8C1028.9 356.3 1029.6 356.4 1031.0 356.4C1031.8 356.4 1032.3 356.4 1033.1 355.1C1033.5 353.9 1033.7 348.8 1034.1 343.2C1034.4 339.1 1034.6 334.8 1034.9 330.8C1035.2 326.0 1035.4 323.6 1035.8 321.4C1036.2 318.6 1036.4 318.2 1036.9 318.2C1037.6 318.2 1038.0 319.7 1038.8 320.8C1039.2 321.4 1039.5 322.6 1040.0 322.6C1041.3 322.6 1042.0 322.1 1043.3 320.9C1045.0 319.5 1045.8 317.7 1047.5 315.9C1048.7 314.7 1049.2 313.4 1050.4 313.4C1051.9 313.4 1052.7 316.7 1054.2 318.4C1055.9 320.4 1056.7 321.6 1058.4 322.6C1060.4 323.9 1061.4 323.9 1063.4 324.3C1065.7 324.8 1066.9 324.5 1069.2 324.8C1071.6 325.1 1072.7 326.0 1075.1 326.0C1077.1 326.0 1078.1 323.1 1080.1 320.9C1081.8 319.1 1082.6 315.9 1084.3 315.9C1086.3 315.9 1087.3 316.8 1089.3 318.4C1090.9 319.8 1091.8 322.6 1093.4 323.4C1095.1 324.3 1096.0 324.3 1097.6 324.3C1099.3 324.3 1100.1 321.1 1101.8 320.1C1103.8 318.9 1104.8 319.1 1106.8 318.8C1108.8 318.4 1109.8 318.8 1111.8 318.4C1113.5 318.1 1114.3 315.3 1116.0 313.4C1117.7 311.6 1118.5 309.3 1120.2 309.3C1121.8 309.3 1122.7 312.4 1124.3 314.3C1125.7 315.7 1126.4 317.6 1127.7 317.6C1129.4 317.6 1130.2 314.3 1131.9 312.6C1133.5 310.9 1134.4 309.3 1136.0 309.3C1137.7 309.3 1138.5 311.8 1140.2 311.8C1141.9 311.8 1142.7 307.6 1144.4 307.6C1146.1 307.6 1146.9 309.6 1148.6 310.9C1150.6 312.6 1151.6 313.9 1153.6 315.1C1155.6 316.3 1156.6 315.3 1158.6 316.8C1160.6 318.3 1161.6 321.0 1163.6 322.6C1165.3 324.0 1166.1 324.3 1167.8 324.3C1170.1 324.3 1171.3 324.3 1173.6 324.3C1175.3 324.3 1176.1 318.8 1177.8 318.8C1179.7 318.8 1180.6 322.0 1182.5 322.0C1183.2 322.0 1183.6 319.8 1184.4 318.9C1185.1 318.0 1185.5 317.6 1186.2 317.6C1187.5 317.6 1188.1 318.9 1189.4 320.1C1190.6 321.4 1191.2 322.4 1192.5 323.9C1194.0 325.6 1194.8 326.6 1196.2 328.2C1197.8 329.9 1198.5 330.5 1200.0 332.0C1201.5 333.5 1202.2 334.5 1203.8 335.8C1205.2 337.0 1206.0 337.2 1207.5 338.2C1209.0 339.2 1209.8 340.1 1211.2 340.8C1212.8 341.4 1213.5 341.4 1215.0 341.4C1217.0 341.4 1218.0 341.4 1220.0 341.4C1222.0 341.4 1223.0 342.5 1225.0 343.2C1227.0 344.0 1228.0 344.5 1230.0 345.1C1232.0 345.8 1233.0 346.4 1235.0 346.4C1236.5 346.4 1237.2 346.4 1238.8 345.8C1240.2 345.1 1241.0 343.9 1242.5 343.2C1243.8 342.7 1244.4 342.6 1245.6 342.6C1246.6 342.6 1247.1 343.9 1248.1 343.9C1249.9 343.9 1250.8 343.4 1252.5 342.6C1254.5 341.7 1255.5 341.0 1257.5 339.5C1258.8 338.5 1259.4 337.0 1260.6 336.4C1261.9 335.8 1262.5 335.8 1263.8 335.8C1264.8 335.8 1265.2 337.2 1266.2 338.2C1267.5 339.5 1268.1 340.4 1269.4 341.4C1270.6 342.4 1271.2 343.2 1272.5 343.2C1274.5 343.2 1275.5 343.2 1277.5 342.6C1279.5 342.0 1280.5 341.2 1282.5 340.1C1284.5 339.0 1285.5 338.5 1287.5 337.0C1288.5 336.2 1289.0 335.1 1290.0 334.5C1291.2 333.9 1291.9 333.9 1293.1 333.9C1294.4 333.9 1295.0 335.0 1296.2 335.8C1297.8 336.7 1298.5 337.1 1300.0 338.2C1301.5 339.4 1302.2 340.8 1303.8 341.4C1305.0 342.0 1305.6 342.0 1306.9 342.0C1308.1 342.0 1308.8 340.6 1310.0 339.5C1311.5 338.1 1312.2 337.1 1313.8 335.8C1315.2 334.4 1316.0 333.6 1317.5 332.6C1319.0 331.6 1319.8 330.8 1321.2 330.8C1322.8 330.8 1323.5 330.8 1325.0 331.4C1326.2 332.0 1326.9 333.7 1328.1 335.1C1329.1 336.2 1329.6 337.6 1330.6 337.6C1331.6 337.6 1332.1 336.2 1333.1 335.8C1334.1 335.2 1334.6 335.1 1335.6 335.1C1336.6 335.1 1337.1 337.6 1338.1 337.6C1339.1 337.6 1339.6 337.6 1340.6 337.6C1341.6 337.6 1342.1 336.1 1343.1 335.1C1343.9 334.4 1345.0 333.2 1345.0 333.2" fill="none" stroke="#2ee0ca" stroke-width="4" stroke-linejoin="round" stroke-linecap="round"/>
<path d="M76.9 333.1C76.9 333.1 79.1 335.1 80.6 336.2C82.1 337.4 82.9 337.8 84.4 339.0C85.4 339.8 85.9 341.2 86.9 341.2C88.4 341.2 89.1 341.0 90.6 340.6C91.9 340.4 92.5 339.8 93.8 339.8C95.2 339.8 96.0 341.6 97.5 342.5C99.0 343.4 99.8 344.0 101.2 344.0C102.8 344.0 103.5 344.0 105.0 343.8C107.0 343.5 108.0 342.4 110.0 341.9C112.0 341.4 113.0 341.9 115.0 341.2C116.8 340.7 117.6 339.6 119.4 339.0C121.1 338.4 122.0 338.6 123.8 338.1C125.5 337.7 126.4 337.2 128.1 336.9C130.4 336.5 131.5 336.2 133.8 336.2C135.5 336.2 136.4 336.3 138.1 336.5C139.9 336.7 140.8 337.2 142.5 337.2C143.8 337.2 144.4 336.2 145.6 336.2C147.1 336.2 147.9 338.8 149.4 338.8C151.1 338.8 152.0 337.9 153.8 337.5C155.8 337.1 156.8 336.9 158.8 336.9C160.8 336.9 161.8 337.5 163.8 337.5C166.0 337.5 167.1 337.5 169.4 336.9C170.6 336.2 171.2 336.0 172.5 335.0C173.2 334.4 173.6 332.8 174.4 332.8C176.1 332.8 177.0 332.8 178.8 332.8C181.2 332.8 182.5 333.1 185.0 333.1C186.5 333.1 187.2 332.0 188.8 330.6C189.8 329.7 190.2 328.3 191.2 327.5C192.5 326.5 193.1 326.2 194.4 326.2C195.6 326.2 196.2 326.2 197.5 327.5C198.5 328.5 199.0 330.6 200.0 331.9C201.0 333.2 201.5 334.0 202.5 334.0C204.0 334.0 204.8 332.2 206.2 331.2C207.8 330.2 208.5 329.0 210.0 329.0C211.5 329.0 212.2 331.3 213.8 332.2C215.2 333.1 216.0 333.0 217.5 333.5C218.5 333.8 219.0 333.5 220.0 334.4C220.8 335.2 221.1 339.0 221.9 339.0C225.5 339.0 227.3 339.0 231.0 339.0C509.1 339.0 648.1 339.0 926.2 338.9C927.5 338.8 928.1 336.4 929.4 336.4C930.6 336.4 931.2 336.4 932.5 336.4C933.5 336.4 934.0 336.7 935.0 337.6C936.2 338.7 936.9 340.8 938.1 341.4C939.4 342.0 940.0 342.0 941.2 342.0C942.8 342.0 943.5 340.5 945.0 340.1C947.0 339.8 948.0 339.8 950.0 339.8C952.0 339.8 953.0 340.9 955.0 341.4C957.0 341.8 958.0 341.4 960.0 342.0C961.5 342.4 962.2 343.9 963.8 343.9C965.2 343.9 966.0 342.2 967.5 341.4C969.0 340.6 969.8 339.8 971.2 339.8C972.8 339.8 973.5 340.7 975.0 341.4C976.5 342.1 977.2 343.2 978.8 343.2C980.2 343.2 981.0 342.8 982.5 342.0C984.0 341.2 984.8 340.4 986.2 339.5C987.8 338.6 988.5 337.6 990.0 337.6C991.5 337.6 992.2 338.6 993.8 339.5C995.2 340.4 996.0 340.9 997.5 342.0C999.0 343.1 999.8 344.5 1001.2 345.1C1002.8 345.8 1003.5 345.8 1005.0 345.8C1006.5 345.8 1007.2 343.5 1008.8 343.2C1010.2 343.0 1011.0 343.0 1012.5 343.0C1014.0 343.0 1014.8 344.5 1016.2 344.5C1017.8 344.5 1018.5 343.2 1020.0 343.2C1021.5 343.2 1022.2 344.9 1023.8 345.5C1025.2 346.1 1026.0 346.4 1027.5 346.4C1028.9 346.4 1029.6 346.4 1031.0 345.8C1032.6 345.1 1033.4 343.5 1035.0 342.6C1036.5 341.8 1037.2 341.4 1038.8 341.4C1040.2 341.4 1041.0 341.8 1042.5 342.6C1044.0 343.5 1044.8 344.8 1046.2 345.8C1047.8 346.8 1048.5 347.6 1050.0 347.6C1051.5 347.6 1052.2 347.6 1053.8 347.6C1055.2 347.6 1056.0 346.2 1057.5 345.8C1059.0 345.2 1059.8 345.1 1061.2 345.1C1062.8 345.1 1063.5 346.1 1065.0 346.4C1067.0 346.8 1068.0 347.0 1070.0 347.0C1072.0 347.0 1073.0 346.8 1075.0 346.4C1076.5 346.1 1077.2 345.6 1078.8 345.1C1080.2 344.6 1081.0 343.9 1082.5 343.9C1084.5 343.9 1085.5 344.2 1087.5 344.5C1089.0 344.7 1089.8 345.1 1091.2 345.1C1092.8 345.1 1093.5 343.9 1095.0 343.9C1096.0 343.9 1096.5 344.2 1097.5 344.5C1099.0 344.9 1099.8 345.2 1101.2 345.8C1102.8 346.2 1103.5 347.0 1105.0 347.0C1106.5 347.0 1107.2 346.5 1108.8 345.8C1110.2 345.0 1111.0 344.1 1112.5 343.2C1114.0 342.4 1114.8 341.4 1116.2 341.4C1117.8 341.4 1118.5 341.5 1120.0 342.0C1121.5 342.5 1122.2 343.2 1123.8 343.9C1125.2 344.5 1126.0 344.6 1127.5 345.1C1129.0 345.6 1129.8 346.4 1131.2 346.4C1132.8 346.4 1133.5 344.5 1135.0 343.2C1136.5 342.0 1137.2 340.1 1138.8 340.1C1139.8 340.1 1140.2 340.2 1141.2 340.8C1142.8 341.5 1143.5 342.6 1145.0 343.2C1146.5 343.9 1147.2 343.4 1148.8 343.9C1150.2 344.4 1151.0 345.8 1152.5 345.8C1154.0 345.8 1154.8 345.8 1156.2 345.1C1157.8 344.5 1158.5 342.6 1160.0 342.6C1161.5 342.6 1162.2 343.2 1163.8 343.2C1165.2 343.2 1166.0 343.2 1167.5 343.2C1169.0 343.2 1169.8 342.8 1171.2 342.0C1172.8 341.2 1173.5 340.3 1175.0 339.5C1176.2 338.8 1176.9 338.2 1178.1 338.2C1179.4 338.2 1180.0 340.1 1181.2 340.8C1182.8 341.6 1183.5 341.6 1185.0 342.0C1186.2 342.3 1186.9 342.2 1188.1 342.6C1189.3 343.0 1189.8 343.1 1191.0 343.9C1192.6 344.9 1193.4 347.0 1195.0 347.0C1197.0 347.0 1198.0 347.0 1200.0 347.0C1202.0 347.0 1203.0 346.4 1205.0 346.4C1207.0 346.4 1208.0 347.0 1210.0 347.0C1211.5 347.0 1212.2 345.9 1213.8 345.1C1215.2 344.4 1216.0 343.2 1217.5 343.2C1219.0 343.2 1219.8 343.9 1221.2 344.5C1222.8 345.1 1223.5 345.9 1225.0 346.4C1226.5 346.9 1227.2 347.0 1228.8 347.0C1230.2 347.0 1231.0 344.7 1232.5 343.9C1234.0 343.1 1234.8 343.0 1236.2 343.0C1237.8 343.0 1238.5 343.7 1240.0 344.2C1241.5 344.8 1242.2 345.8 1243.8 345.8C1245.2 345.8 1246.0 345.6 1247.5 345.1C1249.0 344.6 1249.8 344.0 1251.2 343.2C1252.8 342.5 1253.5 341.8 1255.0 341.4C1257.0 340.8 1258.0 340.8 1260.0 340.8C1261.5 340.8 1262.2 341.5 1263.8 342.0C1265.2 342.5 1266.0 343.2 1267.5 343.2C1269.0 343.2 1269.8 343.2 1271.2 343.2C1273.2 343.2 1274.2 343.1 1276.2 342.0C1277.8 341.1 1278.5 339.6 1280.0 338.2C1281.5 336.9 1282.2 335.1 1283.8 335.1C1285.2 335.1 1286.0 335.1 1287.5 335.8C1288.5 336.4 1289.0 337.9 1290.0 338.9C1291.5 340.4 1292.2 341.0 1293.8 342.0C1295.2 343.0 1296.0 343.3 1297.5 343.9C1299.5 344.6 1300.5 344.8 1302.5 345.1C1304.5 345.5 1305.5 345.8 1307.5 345.8C1309.5 345.8 1310.5 344.9 1312.5 344.5C1314.5 344.1 1315.5 344.1 1317.5 343.9C1319.5 343.6 1320.5 343.8 1322.5 343.2C1324.0 342.8 1324.8 342.0 1326.2 341.4C1327.8 340.8 1328.5 340.1 1330.0 340.1C1331.5 340.1 1332.2 340.5 1333.8 340.8C1335.2 341.0 1336.0 341.0 1337.5 341.4C1339.0 341.8 1339.8 342.0 1341.2 342.6C1342.8 343.2 1345.0 344.5 1345.0 344.5" fill="none" stroke="#fa4b42" stroke-width="4" stroke-linejoin="round" stroke-linecap="round"/>
<path d="M375.3 359.7C375.3 359.7 402.1 359.7 420.0 359.7C440.0 359.7 450.0 359.6 470.0 359.5C490.0 359.4 500.0 359.5 520.0 359.3C526.7 359.3 530.0 359.3 536.7 359.0C540.0 358.7 541.7 358.5 545.0 358.0C547.5 357.7 548.8 357.4 551.2 357.0C553.8 356.6 555.0 356.5 557.5 356.1C559.0 355.9 559.8 355.5 561.2 355.5C564.8 355.5 566.5 355.7 570.0 356.1C573.0 356.5 574.5 357.4 577.5 357.4C580.0 357.4 581.2 357.0 583.8 357.0C586.2 357.0 587.5 357.8 590.0 357.8C593.0 357.8 594.5 357.4 597.5 357.4C600.5 357.4 602.0 357.4 605.0 357.4C608.0 357.4 609.5 356.6 612.5 356.1C615.0 355.7 616.2 355.2 618.8 355.2C620.2 355.2 621.0 355.2 622.5 355.5C624.0 355.8 624.8 356.6 626.2 357.0C628.8 357.4 630.0 357.4 632.5 357.4C635.5 357.4 637.0 357.0 640.0 356.8C643.0 356.5 644.5 356.1 647.5 356.1C650.5 356.1 652.0 356.1 655.0 356.1C658.0 356.1 659.5 356.5 662.5 356.5C665.5 356.5 667.0 356.1 670.0 356.1C673.0 356.1 674.5 356.1 677.5 356.1C679.5 356.1 680.5 356.5 682.5 356.8C685.0 357.0 686.2 357.4 688.8 357.4C691.2 357.4 692.5 357.4 695.0 357.4C696.5 357.4 697.2 356.1 698.8 356.1C700.2 356.1 701.0 356.5 702.5 356.8C704.5 357.0 705.5 357.0 707.5 357.4C709.5 357.8 710.5 358.6 712.5 358.6C713.9 358.6 714.6 358.6 716.0 358.6C719.6 358.6 721.4 359.8 725.0 359.8C727.5 359.8 728.8 359.7 731.2 359.2C733.2 358.9 734.2 358.4 736.2 357.6C737.8 357.0 738.5 355.8 740.0 355.8C741.5 355.8 742.2 356.5 743.8 356.8C745.2 357.0 746.0 357.0 747.5 357.0C749.0 357.0 749.8 356.3 751.2 355.1C752.2 354.3 752.8 353.5 753.8 352.0C754.8 350.5 755.2 348.7 756.2 347.6C757.8 346.0 758.5 345.1 760.0 345.1C761.5 345.1 762.2 345.1 763.8 345.8C764.8 346.1 765.2 346.8 766.2 347.6C767.8 348.8 768.5 349.8 770.0 350.8C771.5 351.8 772.2 352.6 773.8 352.6C775.2 352.6 776.0 352.6 777.5 352.6C779.5 352.6 780.5 352.6 782.5 352.0C784.0 351.6 784.8 351.0 786.2 350.1C787.8 349.2 788.5 347.6 790.0 347.6C791.5 347.6 792.2 348.8 793.8 349.5C795.2 350.2 796.0 351.0 797.5 351.4C800.0 352.0 801.2 352.0 803.8 352.0C806.2 352.0 807.5 352.0 810.0 352.0C812.5 352.0 813.8 351.6 816.2 351.4C818.8 351.1 820.0 351.1 822.5 350.8C825.0 350.4 826.2 349.9 828.8 349.5C831.2 349.1 832.5 349.3 835.0 348.9C837.0 348.5 838.0 348.1 840.0 347.6C842.0 347.1 843.0 346.8 845.0 346.4C847.0 346.0 848.0 346.1 850.0 345.8C852.0 345.4 853.0 344.5 855.0 344.5C857.0 344.5 858.0 345.1 860.0 345.1C862.0 345.1 863.0 345.1 865.0 345.1C867.4 345.1 868.6 344.3 871.0 343.9C872.6 343.6 873.4 343.5 875.0 343.2C877.0 343.0 878.0 343.0 880.0 342.6C882.0 342.2 883.0 341.4 885.0 341.4C887.5 341.4 888.8 342.1 891.2 342.6C893.8 343.1 895.0 343.3 897.5 343.9C899.5 344.3 900.5 345.1 902.5 345.1C904.5 345.1 905.5 345.1 907.5 345.1C909.0 345.1 909.8 345.5 911.2 345.8C912.8 346.0 913.5 346.4 915.0 346.4C916.5 346.4 917.2 346.3 918.8 344.5C919.8 343.3 920.2 339.5 921.2 338.9C922.2 338.2 922.8 338.2 923.8 338.2C924.5 338.2 924.9 338.9 925.6 340.1C926.4 341.4 926.8 342.6 927.5 344.5C928.2 346.4 928.6 348.1 929.4 349.5C930.1 350.9 930.5 351.4 931.2 351.4C932.0 351.4 932.4 349.4 933.1 348.2C933.9 347.1 934.2 345.8 935.0 345.8C936.0 345.8 936.5 345.9 937.5 346.4C939.0 347.1 939.8 348.9 941.2 348.9C942.8 348.9 943.5 347.6 945.0 347.6C946.0 347.6 946.5 348.8 947.5 349.5C949.0 350.6 949.8 351.4 951.2 352.0C953.2 352.6 954.2 352.6 956.2 352.6C958.2 352.6 959.2 352.4 961.2 352.0C963.2 351.6 964.2 351.5 966.2 350.8C967.8 350.2 968.5 349.4 970.0 348.9C971.5 348.4 972.2 348.2 973.8 348.2C975.2 348.2 976.0 350.1 977.5 350.1C979.0 350.1 979.8 348.9 981.2 348.9C982.8 348.9 983.5 350.2 985.0 350.8C987.0 351.5 988.0 351.6 990.0 352.0C992.0 352.4 993.0 352.4 995.0 352.6C997.0 352.9 998.0 353.2 1000.0 353.2C1002.0 353.2 1003.0 353.2 1005.0 352.6C1007.0 352.0 1008.0 350.1 1010.0 350.1C1012.0 350.1 1013.0 351.5 1015.0 352.0C1017.0 352.5 1018.0 352.6 1020.0 352.6C1022.0 352.6 1023.0 352.5 1025.0 352.0C1026.2 351.7 1026.9 351.3 1028.1 350.8C1029.3 350.3 1029.8 350.0 1031.0 349.5C1032.6 348.8 1033.4 348.7 1035.0 347.6C1036.5 346.7 1037.2 345.6 1038.8 344.5C1040.2 343.4 1041.0 342.9 1042.5 342.0C1044.0 341.1 1044.8 341.0 1046.2 340.1C1047.8 339.2 1048.5 338.6 1050.0 337.6C1051.5 336.6 1052.2 335.1 1053.8 335.1C1054.8 335.1 1055.2 335.6 1056.2 336.4C1057.8 337.6 1058.5 338.6 1060.0 340.1C1061.5 341.6 1062.2 342.8 1063.8 343.9C1065.2 345.0 1066.0 345.8 1067.5 345.8C1069.0 345.8 1069.8 345.6 1071.2 345.1C1072.8 344.6 1073.5 343.2 1075.0 343.2C1076.2 343.2 1076.9 343.6 1078.1 344.5C1079.4 345.4 1080.0 346.6 1081.2 347.6C1082.8 348.9 1083.5 349.3 1085.0 350.1C1086.2 350.8 1086.9 351.4 1088.1 351.4C1089.4 351.4 1090.0 349.5 1091.2 348.9C1092.8 348.2 1093.5 348.2 1095.0 348.2C1096.5 348.2 1097.2 348.9 1098.8 348.9C1100.2 348.9 1101.0 348.9 1102.5 348.9C1104.0 348.9 1104.8 350.2 1106.2 350.8C1107.8 351.2 1108.5 351.4 1110.0 351.4C1112.0 351.4 1113.0 350.4 1115.0 349.5C1117.0 348.6 1118.0 347.7 1120.0 347.0C1121.5 346.5 1122.2 346.4 1123.8 346.4C1125.2 346.4 1126.0 347.8 1127.5 348.2C1129.0 348.8 1129.8 348.9 1131.2 348.9C1132.8 348.9 1133.5 347.5 1135.0 347.0C1136.5 346.5 1137.2 346.4 1138.8 346.4C1140.2 346.4 1141.0 348.4 1142.5 349.5C1144.0 350.6 1144.8 351.2 1146.2 352.0C1148.2 353.0 1149.2 353.9 1151.2 353.9C1153.2 353.9 1154.2 353.8 1156.2 353.2C1157.8 352.8 1158.5 352.0 1160.0 351.4C1162.0 350.5 1163.0 349.5 1165.0 349.5C1167.0 349.5 1168.0 349.5 1170.0 349.5C1172.0 349.5 1173.0 349.9 1175.0 350.1C1177.0 350.4 1178.0 350.4 1180.0 350.8C1182.0 351.1 1183.0 351.4 1185.0 352.0C1187.4 352.7 1188.6 353.9 1191.0 353.9C1192.6 353.9 1193.4 353.5 1195.0 353.2C1197.0 353.0 1198.0 352.6 1200.0 352.6C1202.0 352.6 1203.0 353.2 1205.0 353.2C1207.0 353.2 1208.0 352.6 1210.0 352.6C1212.0 352.6 1213.0 352.6 1215.0 352.6C1217.0 352.6 1218.0 353.4 1220.0 353.9C1222.0 354.4 1223.0 355.1 1225.0 355.1C1227.0 355.1 1228.0 355.1 1230.0 354.5C1231.5 354.1 1232.2 352.6 1233.8 352.6C1235.8 352.6 1236.8 353.5 1238.8 353.9C1240.8 354.2 1241.8 354.5 1243.8 354.5C1245.2 354.5 1246.0 354.2 1247.5 353.9C1249.0 353.5 1249.8 352.6 1251.2 352.6C1252.8 352.6 1253.5 353.2 1255.0 353.2C1256.5 353.2 1257.2 351.5 1258.8 350.8C1260.2 350.0 1261.0 349.5 1262.5 349.5C1264.5 349.5 1265.5 349.6 1267.5 350.1C1269.5 350.6 1270.5 352.0 1272.5 352.0C1274.5 352.0 1275.5 352.0 1277.5 352.0C1279.5 352.0 1280.5 352.0 1282.5 352.0C1285.0 352.0 1286.2 352.0 1288.8 352.0C1290.2 352.0 1291.0 351.0 1292.5 350.1C1294.0 349.2 1294.8 347.6 1296.2 347.6C1297.8 347.6 1298.5 347.9 1300.0 348.2C1302.0 348.7 1303.0 349.5 1305.0 349.5C1307.0 349.5 1308.0 348.6 1310.0 348.2C1312.0 347.9 1313.0 348.0 1315.0 347.6C1317.0 347.2 1318.0 346.9 1320.0 346.4C1321.5 345.9 1322.2 345.6 1323.8 345.1C1325.2 344.6 1326.0 343.9 1327.5 343.9C1328.5 343.9 1329.0 345.1 1330.0 345.1C1331.5 345.1 1332.2 341.4 1333.8 341.4C1335.2 341.4 1336.0 342.1 1337.5 342.6C1339.0 343.1 1339.8 343.2 1341.2 343.9C1342.8 344.5 1345.0 345.8 1345.0 345.8" fill="none" stroke="#feb56a" stroke-width="4" stroke-linejoin="round" stroke-linecap="round"/>
<path d="M76.9 327.8C76.9 327.8 78.8 330.3 80.0 332.5C81.2 334.7 81.9 336.4 83.1 338.8C84.3 340.9 84.8 343.8 86.0 343.8C87.3 343.8 88.0 340.3 89.4 338.8C90.7 337.2 91.4 336.4 92.8 336.0C94.4 335.6 95.2 335.6 96.9 335.6C98.0 335.6 98.6 335.6 99.8 336.9C100.3 338.1 100.7 340.1 101.2 342.5C101.8 344.9 102.2 347.2 102.8 348.8C103.9 350.2 104.5 350.2 105.6 350.2C108.4 350.2 109.8 350.2 112.5 350.0C114.5 349.8 115.5 348.7 117.5 348.1C119.5 347.6 120.5 347.2 122.5 347.2C124.5 347.2 125.5 348.1 127.5 348.1C130.0 348.1 131.2 348.1 133.8 347.8C135.2 347.4 136.0 346.0 137.5 346.0C139.0 346.0 139.8 347.2 141.2 347.2C143.8 347.2 145.0 346.5 147.5 346.5C149.5 346.5 150.5 346.5 152.5 346.5C154.5 346.5 155.5 347.1 157.5 347.2C160.0 347.5 161.2 347.3 163.8 347.5C165.2 347.6 166.0 347.5 167.5 348.1C169.0 348.8 169.8 351.2 171.2 351.2C172.8 351.2 173.5 349.0 175.0 348.1C176.5 347.2 177.2 347.6 178.8 346.9C180.8 345.9 181.8 343.8 183.8 343.8C185.2 343.8 186.0 344.8 187.5 345.6C189.0 346.5 189.8 348.1 191.2 348.1C192.5 348.1 193.1 347.9 194.4 347.5C195.6 347.1 196.2 346.2 197.5 346.2C198.2 346.2 198.6 348.8 199.4 350.0C200.4 351.6 200.9 352.2 201.9 353.1C204.1 354.0 205.2 354.0 207.5 354.0C210.0 354.0 211.2 353.5 213.8 353.1C215.5 352.9 216.4 353.1 218.1 352.5C218.8 351.9 219.1 352.5 219.8 347.5C220.1 342.5 220.3 334.4 220.6 331.2C221.4 324.6 221.8 323.1 222.5 323.1C223.8 323.1 224.4 328.1 225.6 328.1C226.6 328.1 227.1 326.5 228.1 325.0C229.3 323.3 229.8 321.4 231.0 320.0C231.8 318.9 232.3 319.1 233.1 318.8C234.1 318.3 234.6 318.8 235.6 318.1C236.4 317.5 236.8 313.4 237.5 311.2C238.2 309.1 238.6 307.5 239.4 307.5C240.0 307.5 240.3 307.6 241.0 309.4C241.6 311.1 241.9 314.2 242.5 316.2C243.2 318.8 243.6 320.6 244.4 320.6C245.1 320.6 245.5 317.3 246.2 315.6C247.0 313.9 247.4 312.2 248.1 312.2C248.9 312.2 249.2 313.5 250.0 316.2C250.5 318.1 250.8 320.5 251.2 323.8C251.8 327.0 252.0 329.5 252.5 332.6C253.5 335.8 254.0 334.4 255.0 335.8C256.2 337.4 256.9 338.5 258.1 340.1C259.1 341.5 259.6 343.2 260.6 343.2C261.9 343.2 262.5 343.2 263.8 342.6C264.8 342.0 265.2 340.0 266.2 337.0C267.0 334.8 267.4 331.5 268.1 329.5C268.8 327.8 269.1 327.6 269.8 327.6C270.4 327.6 270.6 329.8 271.2 332.0C271.9 334.2 272.1 338.9 272.8 338.9C273.6 338.9 274.1 338.5 275.0 337.6C276.0 336.7 276.5 334.5 277.5 334.5C278.2 334.5 278.6 334.9 279.4 337.0C279.9 338.4 280.1 341.8 280.6 343.2C281.6 344.8 282.1 344.8 283.1 344.8C284.9 344.8 285.8 344.8 287.5 344.8C289.5 344.8 290.5 346.3 292.5 347.0C294.5 347.7 295.5 348.0 297.5 348.2C299.5 348.5 300.5 348.5 302.5 348.5C304.5 348.5 305.5 348.5 307.5 347.6C309.0 346.8 309.8 345.5 311.2 344.5C312.5 343.7 313.1 343.2 314.4 343.2C315.6 343.2 316.2 344.1 317.5 345.1C318.8 346.1 319.4 348.2 320.6 348.2C321.9 348.2 322.5 347.8 323.8 346.4C325.0 345.0 325.6 343.0 326.9 341.4C327.9 340.0 328.4 338.9 329.4 338.9C330.6 338.9 331.2 342.0 332.5 342.0C334.5 342.0 335.5 341.9 337.5 341.8C339.5 341.6 340.5 341.6 342.5 341.4C344.5 341.2 345.5 341.2 347.5 340.8C349.0 340.4 349.8 340.1 351.2 339.5C352.8 338.9 353.5 337.6 355.0 337.6C356.5 337.6 357.2 338.1 358.8 338.9C360.2 339.6 361.0 340.3 362.5 341.4C364.2 342.6 365.1 344.5 366.9 344.5C368.1 344.5 368.8 342.4 370.0 341.4C371.2 340.4 371.9 339.5 373.1 339.5C374.4 339.5 375.0 340.3 376.2 341.4C377.2 342.3 377.8 343.7 378.8 344.5C380.0 345.5 380.6 345.6 381.9 346.0C383.5 346.6 384.4 346.0 386.0 347.0C387.1 347.6 387.6 349.8 388.8 350.0C390.2 350.2 391.0 350.2 392.5 350.2C394.0 350.2 394.8 350.0 396.2 348.8C397.2 347.9 397.8 347.0 398.8 345.0C399.8 343.0 400.2 340.4 401.2 338.8C402.2 337.1 402.8 337.5 403.8 336.9C405.0 336.0 405.6 336.2 406.9 335.0C408.4 333.6 409.1 330.2 410.6 330.2C411.6 330.2 412.1 332.1 413.1 333.1C414.4 334.5 415.0 335.3 416.2 336.2C418.2 337.8 419.2 338.2 421.2 339.4C423.2 340.5 424.2 341.1 426.2 341.9C428.2 342.6 429.2 343.1 431.2 343.1C432.8 343.1 433.5 343.1 435.0 343.1C436.0 343.1 436.5 342.6 437.5 341.2C438.5 339.9 439.0 337.6 440.0 336.2C441.5 334.3 442.2 334.0 443.8 333.1C445.2 332.2 446.0 332.9 447.5 331.9C448.5 331.2 449.0 330.2 450.0 328.8C450.8 327.7 451.1 326.6 451.9 325.6C452.5 324.8 452.9 324.4 453.5 324.4C454.1 324.4 454.4 326.6 455.0 328.8C455.8 331.4 456.1 333.2 456.9 336.2C457.2 337.7 457.4 340.0 457.8 340.0C458.4 340.0 458.7 337.9 459.4 336.2C460.1 334.4 460.5 332.5 461.2 331.2C462.2 329.5 462.8 329.4 463.8 328.8C464.8 328.1 465.2 327.8 466.2 327.8C467.2 327.8 467.8 329.6 468.8 331.2C469.8 332.9 470.2 334.9 471.2 336.2C472.8 338.4 473.5 340.0 475.0 340.0C476.5 340.0 477.2 339.4 478.8 339.4C480.2 339.4 481.0 340.5 482.5 341.2C484.0 342.0 484.8 343.1 486.2 343.1C487.5 343.1 488.1 342.3 489.4 341.2C490.1 340.6 490.5 338.8 491.2 338.8C492.2 338.8 492.8 341.0 493.8 341.9C495.0 343.0 495.6 343.8 496.9 343.8C498.1 343.8 498.8 342.3 500.0 341.9C502.0 341.2 503.0 341.5 505.0 341.0C507.0 340.5 508.0 339.4 510.0 339.4C511.5 339.4 512.2 339.4 513.8 339.4C514.8 339.4 515.2 337.9 516.2 337.5C518.2 336.7 519.2 336.2 521.2 336.2C523.8 336.2 525.0 336.2 527.5 336.2C529.5 336.2 530.5 336.9 532.5 337.5C534.5 338.1 535.5 339.4 537.5 339.4C539.5 339.4 540.5 339.4 542.5 339.4C543.5 339.4 544.0 339.9 545.0 341.2C546.0 342.6 546.5 345.0 547.5 346.2C548.9 347.5 549.6 347.5 551.0 347.5C552.6 347.5 553.4 346.7 555.0 345.5C556.2 344.6 556.9 343.6 558.1 342.4C558.9 341.7 559.2 340.8 560.0 340.8C561.0 340.8 561.5 342.6 562.5 344.2C563.5 345.9 564.0 348.3 565.0 349.2C567.0 351.1 568.0 350.7 570.0 351.1C572.5 351.7 573.8 351.8 576.2 351.8C578.8 351.8 580.0 351.1 582.5 351.1C584.5 351.1 585.5 351.1 587.5 351.1C589.2 351.1 590.1 353.0 591.9 353.0C593.4 353.0 594.1 351.4 595.6 350.5C597.1 349.6 597.9 348.6 599.4 348.6C600.9 348.6 601.6 349.7 603.1 350.5C604.9 351.4 605.8 353.0 607.5 353.0C609.0 353.0 609.8 351.6 611.2 350.5C612.8 349.4 613.5 348.8 615.0 347.4C616.5 346.0 617.2 344.7 618.8 343.6C619.8 342.9 620.2 342.8 621.2 342.8C622.8 342.8 623.5 343.7 625.0 344.9C626.5 346.1 627.2 347.4 628.8 348.6C630.2 349.9 631.0 351.1 632.5 351.1C634.5 351.1 635.5 350.5 637.5 350.5C640.0 350.5 641.2 351.2 643.8 351.5C646.2 351.8 647.5 352.0 650.0 352.0C652.5 352.0 653.8 351.1 656.2 351.1C658.8 351.1 660.0 352.4 662.5 352.4C665.0 352.4 666.2 352.4 668.8 352.4C671.2 352.4 672.5 352.8 675.0 353.0C677.5 353.2 678.8 353.2 681.2 353.6C683.8 354.0 685.0 354.5 687.5 354.9C689.5 355.2 690.5 355.2 692.5 355.2C694.2 355.2 695.1 353.8 696.9 353.2C698.6 352.7 699.5 352.4 701.2 352.4C702.8 352.4 703.5 352.5 705.0 353.0C706.5 353.5 707.2 354.4 708.8 354.9C710.2 355.4 711.0 355.5 712.5 355.5C713.9 355.5 714.6 355.5 716.0 355.5C717.6 355.5 718.4 355.8 720.0 355.8C721.5 355.8 722.2 355.2 723.8 354.5C724.8 354.0 725.2 352.6 726.2 352.6C727.8 352.6 728.5 353.2 730.0 353.2C731.5 353.2 732.2 352.0 733.8 352.0C735.2 352.0 736.0 352.6 737.5 352.6C739.0 352.6 739.8 351.8 741.2 351.8C742.8 351.8 743.5 352.0 745.0 352.0C746.5 352.0 747.2 352.0 748.8 351.4C749.8 351.0 750.2 350.9 751.2 349.5C752.0 348.4 752.4 346.2 753.1 345.1C754.1 343.7 754.6 343.2 755.6 343.2C756.4 343.2 756.8 345.0 757.5 346.4C758.2 347.8 758.6 349.5 759.4 350.1C760.6 350.8 761.2 350.4 762.5 350.8C763.8 351.1 764.4 351.5 765.6 352.0C766.9 352.5 767.5 353.2 768.8 353.2C769.8 353.2 770.2 350.9 771.2 349.5C772.0 348.4 772.4 347.0 773.1 347.0C774.4 347.0 775.0 348.9 776.2 349.5C777.5 350.1 778.1 350.1 779.4 350.1C780.6 350.1 781.2 348.7 782.5 348.2C784.0 347.7 784.8 348.2 786.2 347.6C787.2 347.0 787.8 346.1 788.8 345.1C789.5 344.4 789.9 343.2 790.6 343.2C791.9 343.2 792.5 345.0 793.8 345.8C795.2 346.7 796.0 347.6 797.5 347.6C799.0 347.6 799.8 346.8 801.2 346.4C803.2 345.8 804.2 345.1 806.2 345.1C808.8 345.1 810.0 345.1 812.5 345.1C815.0 345.1 816.2 344.8 818.8 343.9C820.5 343.3 821.4 341.4 823.1 341.4C824.9 341.4 825.8 342.6 827.5 342.6C829.5 342.6 830.5 340.8 832.5 340.8C834.5 340.8 835.5 343.2 837.5 343.2C839.5 343.2 840.5 343.2 842.5 342.6C844.5 342.0 845.5 340.1 847.5 340.1C849.0 340.1 849.8 341.4 851.2 341.4C852.8 341.4 853.5 340.1 855.0 340.1C856.5 340.1 857.2 343.2 858.8 343.2C860.2 343.2 861.0 342.9 862.5 342.6C864.5 342.2 865.5 342.6 867.5 341.4C868.9 340.6 869.6 337.6 871.0 337.6C871.6 337.6 871.9 337.6 872.5 337.6C874.0 337.6 874.8 337.6 876.2 337.6C877.8 337.6 878.5 337.5 880.0 337.0C881.5 336.5 882.2 335.1 883.8 335.1C884.5 335.1 884.9 335.1 885.6 335.8C886.4 336.4 886.8 339.5 887.5 340.8C889.0 342.0 889.8 342.0 891.2 342.0C892.5 342.0 893.1 340.3 894.4 339.5C895.4 338.8 895.9 338.2 896.9 338.2C898.1 338.2 898.8 341.6 900.0 342.6C901.5 343.9 902.2 343.9 903.8 343.9C905.2 343.9 906.0 342.6 907.5 342.0C908.5 341.6 909.0 341.4 910.0 341.4C911.5 341.4 912.2 343.8 913.8 345.1C915.2 346.5 916.0 347.2 917.5 348.2C918.2 348.8 918.6 348.9 919.4 348.9C920.1 348.9 920.5 344.1 921.2 342.0C922.0 339.9 922.4 338.9 923.1 338.2C924.4 337.6 925.0 337.6 926.2 337.6C927.2 337.6 927.8 337.6 928.8 338.9C929.5 340.1 929.9 343.9 930.6 343.9C931.4 343.9 931.8 342.6 932.5 342.6C933.5 342.6 934.0 342.6 935.0 343.2C936.0 343.9 936.5 346.5 937.5 348.2C938.5 350.0 939.0 351.4 940.0 352.0C941.5 352.6 942.2 352.6 943.8 352.6C945.2 352.6 946.0 352.1 947.5 351.4C949.0 350.6 949.8 348.9 951.2 348.9C953.2 348.9 954.2 348.9 956.2 348.9C958.2 348.9 959.2 349.5 961.2 349.5C963.2 349.5 964.2 348.2 966.2 348.2C968.2 348.2 969.2 348.4 971.2 348.9C973.2 349.4 974.2 350.2 976.2 350.8C978.2 351.2 979.2 351.4 981.2 351.4C983.2 351.4 984.2 350.1 986.2 349.5C987.8 349.1 988.5 348.9 990.0 348.9C991.8 348.9 992.6 349.5 994.4 350.1C996.1 350.8 997.0 352.0 998.8 352.0C1000.8 352.0 1001.8 351.9 1003.8 351.4C1005.2 350.9 1006.0 349.5 1007.5 349.5C1009.5 349.5 1010.5 349.5 1012.5 349.5C1014.5 349.5 1015.5 350.8 1017.5 350.8C1019.0 350.8 1019.8 349.5 1021.2 349.5C1022.8 349.5 1023.5 351.5 1025.0 352.6C1026.2 353.5 1026.9 354.0 1028.1 354.5C1029.3 355.0 1029.8 355.1 1031.0 355.1C1032.1 355.1 1032.7 354.2 1033.8 354.2C1035.8 354.2 1036.8 354.5 1038.8 354.8C1041.2 355.0 1042.5 355.2 1045.0 355.5C1047.5 355.8 1048.8 356.0 1051.2 356.0C1053.8 356.0 1055.0 356.0 1057.5 355.8C1059.5 355.5 1060.5 355.0 1062.5 354.5C1064.5 354.0 1065.5 353.2 1067.5 353.2C1069.5 353.2 1070.5 353.2 1072.5 353.2C1074.5 353.2 1075.5 352.8 1077.5 352.0C1079.5 351.2 1080.5 350.4 1082.5 349.5C1084.5 348.6 1085.5 347.6 1087.5 347.6C1089.0 347.6 1089.8 348.2 1091.2 348.9C1093.2 349.7 1094.2 350.4 1096.2 351.4C1098.2 352.4 1099.2 353.1 1101.2 353.9C1103.2 354.6 1104.2 355.1 1106.2 355.1C1108.2 355.1 1109.2 354.6 1111.2 353.9C1113.2 353.1 1114.2 352.0 1116.2 351.4C1118.2 350.8 1119.2 350.8 1121.2 350.8C1123.2 350.8 1124.2 352.0 1126.2 352.0C1128.2 352.0 1129.2 352.0 1131.2 352.0C1133.2 352.0 1134.2 351.5 1136.2 350.8C1137.8 350.2 1138.5 349.3 1140.0 348.9C1142.0 348.3 1143.0 348.2 1145.0 348.2C1147.0 348.2 1148.0 348.4 1150.0 348.9C1152.0 349.4 1153.0 350.8 1155.0 350.8C1157.0 350.8 1158.0 350.1 1160.0 350.1C1161.5 350.1 1162.2 352.0 1163.8 352.0C1165.2 352.0 1166.0 351.6 1167.5 351.4C1169.0 351.1 1169.8 350.8 1171.2 350.8C1172.8 350.8 1173.5 352.1 1175.0 352.6C1176.5 353.1 1177.2 353.2 1178.8 353.2C1180.2 353.2 1181.0 352.5 1182.5 352.0C1184.5 351.3 1185.5 350.7 1187.5 350.1C1188.9 349.7 1189.6 349.5 1191.0 349.5C1192.1 349.5 1192.7 352.0 1193.8 352.0C1194.8 352.0 1195.2 350.8 1196.2 350.1C1197.2 349.5 1197.8 348.9 1198.8 348.9C1200.2 348.9 1201.0 350.6 1202.5 351.4C1204.2 352.3 1205.1 353.2 1206.9 353.2C1208.6 353.2 1209.5 352.2 1211.2 351.4C1212.8 350.7 1213.5 350.0 1215.0 349.5C1216.5 349.0 1217.2 348.9 1218.8 348.9C1220.5 348.9 1221.4 350.8 1223.1 351.4C1224.9 352.0 1225.8 352.0 1227.5 352.0C1229.0 352.0 1229.8 350.4 1231.2 349.5C1232.2 348.9 1232.8 348.2 1233.8 348.2C1235.2 348.2 1236.0 349.5 1237.5 349.5C1239.0 349.5 1239.8 347.6 1241.2 347.6C1242.8 347.6 1243.5 348.9 1245.0 348.9C1246.2 348.9 1246.9 347.8 1248.1 347.0C1249.4 346.2 1250.0 345.4 1251.2 344.8C1252.8 343.9 1253.5 343.2 1255.0 343.2C1256.5 343.2 1257.2 344.4 1258.8 344.8C1260.2 345.1 1261.0 345.1 1262.5 345.1C1264.0 345.1 1264.8 345.1 1266.2 345.1C1267.8 345.1 1268.5 347.0 1270.0 347.0C1272.0 347.0 1273.0 347.0 1275.0 347.0C1276.5 347.0 1277.2 346.2 1278.8 345.1C1279.8 344.4 1280.2 343.2 1281.2 342.6C1282.8 341.7 1283.5 341.8 1285.0 341.4C1286.5 341.0 1287.2 341.4 1288.8 340.8C1289.8 340.4 1290.2 339.5 1291.2 338.9C1292.2 338.2 1292.8 337.6 1293.8 337.6C1295.2 337.6 1296.0 338.2 1297.5 338.9C1299.0 339.5 1299.8 340.0 1301.2 340.8C1302.8 341.5 1303.5 342.0 1305.0 342.6C1306.5 343.2 1307.2 343.9 1308.8 343.9C1310.2 343.9 1311.0 342.8 1312.5 342.0C1313.5 341.5 1314.0 340.8 1315.0 340.8C1316.0 340.8 1316.5 343.2 1317.5 343.2C1319.0 343.2 1319.8 342.0 1321.2 342.0C1322.8 342.0 1323.5 342.0 1325.0 342.0C1327.0 342.0 1328.0 342.6 1330.0 342.6C1332.0 342.6 1333.0 342.6 1335.0 342.6C1336.5 342.6 1337.2 342.8 1338.8 343.2C1340.2 343.7 1341.0 343.9 1342.5 344.8C1343.5 345.4 1345.0 347.0 1345.0 347.0" fill="none" stroke="#91e8e1" stroke-width="4" stroke-linejoin="round" stroke-linecap="round"/>
<line x1="65" x2="1357" y1="361.5" y2="361.5" stroke="#333333" stroke-width="1"/>
<line x1="103.5" x2="103.5" y1="361" y2="371" stroke="#333333" stroke-width="1"/>
<line x1="205.5" x2="205.5" y1="361" y2="371" stroke="#333333" stroke-width="1"/>
<line x1="308.5" x2="308.5" y1="361" y2="371" stroke="#333333" stroke-width="1"/>
<line x1="410.5" x2="410.5" y1="361" y2="371" stroke="#333333" stroke-width="1"/>
<line x1="512.5" x2="512.5" y1="361" y2="371" stroke="#333333" stroke-width="1"/>
<line x1="615.5" x2="615.5" y1="361" y2="371" stroke="#333333" stroke-width="1"/>
<line x1="717.5" x2="717.5" y1="361" y2="371" stroke="#333333" stroke-width="1"/>
<line x1="819.5" x2="819.5" y1="361" y2="371" stroke="#333333" stroke-width="1"/>
<line x1="922.5" x2="922.5" y1="361" y2="371" stroke="#333333" stroke-width="1"/>
<line x1="1024.5" x2="1024.5" y1="361" y2="371" stroke="#333333" stroke-width="1"/>
<line x1="1126.5" x2="1126.5" y1="361" y2="371" stroke="#333333" stroke-width="1"/>
<line x1="1229.5" x2="1229.5" y1="361" y2="371" stroke="#333333" stroke-width="1"/>
<line x1="1331.5" x2="1331.5" y1="361" y2="371" stroke="#333333" stroke-width="1"/>
<line x1="296.9" x2="308.9" y1="421" y2="421" stroke="#2caffe" stroke-width="4" stroke-linecap="round"/>
<line x1="378" x2="390" y1="421" y2="421" stroke="#544fc5" stroke-width="4" stroke-linecap="round"/>
<line x1="426.9" x2="438.9" y1="421" y2="421" stroke="#00e272" stroke-width="4" stroke-linecap="round"/>
<line x1="493" x2="505" y1="421" y2="421" stroke="#fe6a35" stroke-width="4" stroke-linecap="round"/>
<line x1="558.6" x2="570.6" y1="421" y2="421" stroke="#6b8abc" stroke-width="4" stroke-linecap="round"/>
<line x1="616" x2="628" y1="421" y2="421" stroke="#d568fb" stroke-width="4" stroke-linecap="round"/>
<line x1="714.2" x2="726.2" y1="421" y2="421" stroke="#2ee0ca" stroke-width="4" stroke-linecap="round"/>
<line x1="821.5" x2="833.5" y1="421" y2="421" stroke="#fa4b42" stroke-width="4" stroke-linecap="round"/>
<line x1="885.8" x2="897.8" y1="421" y2="421" stroke="#feb56a" stroke-width="4" stroke-linecap="round"/>
<line x1="935.8" x2="947.8" y1="421" y2="421" stroke="#91e8e1" stroke-width="4" stroke-linecap="round"/>
<text id="x2002" x="89.76" y="387.8" class="ax" textLength="27.86" lengthAdjust="spacingAndGlyphs">2002</text>
<text id="x2004" x="191.76" y="387.8" class="ax" textLength="27.86" lengthAdjust="spacingAndGlyphs">2004</text>
<text id="x2006" x="294.76" y="387.8" class="ax" textLength="27.86" lengthAdjust="spacingAndGlyphs">2006</text>
<text id="x2008" x="396.76" y="387.8" class="ax" textLength="27.86" lengthAdjust="spacingAndGlyphs">2008</text>
<text id="x2010" x="498.76" y="387.8" class="ax" textLength="27.86" lengthAdjust="spacingAndGlyphs">2010</text>
<text id="x2012" x="601.76" y="387.8" class="ax" textLength="27.86" lengthAdjust="spacingAndGlyphs">2012</text>
<text id="x2014" x="703.76" y="387.8" class="ax" textLength="27.86" lengthAdjust="spacingAndGlyphs">2014</text>
<text id="x2016" x="805.76" y="387.8" class="ax" textLength="27.86" lengthAdjust="spacingAndGlyphs">2016</text>
<text id="x2018" x="908.76" y="387.8" class="ax" textLength="27.86" lengthAdjust="spacingAndGlyphs">2018</text>
<text id="x2020" x="1010.76" y="387.8" class="ax" textLength="27.86" lengthAdjust="spacingAndGlyphs">2020</text>
<text id="x2022" x="1112.76" y="387.8" class="ax" textLength="27.86" lengthAdjust="spacingAndGlyphs">2022</text>
<text id="x2024" x="1215.76" y="387.8" class="ax" textLength="27.86" lengthAdjust="spacingAndGlyphs">2024</text>
<text id="x2026" x="1317.76" y="387.8" class="ax" textLength="27.86" lengthAdjust="spacingAndGlyphs">2026</text>
<text id="y0" x="42.76" y="365.3" class="ax" textLength="7.48" lengthAdjust="spacingAndGlyphs">0</text>
<text id="y5" x="42.76" y="319.3" class="ax" textLength="7.48" lengthAdjust="spacingAndGlyphs">5</text>
<text id="y10" x="35.64" y="274.3" class="ax" textLength="14.60" lengthAdjust="spacingAndGlyphs">10</text>
<text id="y15" x="35.64" y="229.3" class="ax" textLength="14.60" lengthAdjust="spacingAndGlyphs">15</text>
<text id="y20" x="36.44" y="183.3" class="ax" textLength="13.80" lengthAdjust="spacingAndGlyphs">20</text>
<text id="y25" x="36.44" y="138.3" class="ax" textLength="13.80" lengthAdjust="spacingAndGlyphs">25</text>
<text id="y30" x="36.44" y="93.3" class="ax" textLength="13.80" lengthAdjust="spacingAndGlyphs">30</text>
<text id="sub" x="579.92" y="62.1" class="sub" textLength="132.38" lengthAdjust="spacingAndGlyphs">Source: www.tiobe.com</text>
<text id="lg_python" x="315.58" y="425.1" class="lg" textLength="40.04" lengthAdjust="spacingAndGlyphs">Python</text>
<text id="lg_c" x="397.00" y="425.1" class="lg" textLength="8.68" lengthAdjust="spacingAndGlyphs">C</text>
<text id="lg_cpp" x="446.00" y="425.1" class="lg" textLength="24.00" lengthAdjust="spacingAndGlyphs">C++</text>
<text id="lg_java" x="512.50" y="425.1" class="lg" textLength="23.12" lengthAdjust="spacingAndGlyphs">Java</text>
<text id="lg_csharp" x="578.00" y="425.1" class="lg" textLength="15.50" lengthAdjust="spacingAndGlyphs">C#</text>
<text id="lg_js" x="635.00" y="425.1" class="lg" textLength="54.88" lengthAdjust="spacingAndGlyphs">JavaScript</text>
<text id="lg_vb" x="733.50" y="425.1" class="lg" textLength="64.50" lengthAdjust="spacingAndGlyphs">Visual Basic</text>
<text id="lg_sql" x="840.20" y="425.1" class="lg" textLength="22.80" lengthAdjust="spacingAndGlyphs">SQL</text>
<text id="lg_r" x="904.76" y="425.1" class="lg" textLength="8.54" lengthAdjust="spacingAndGlyphs">R</text>
<text id="lg_delphi" x="954.76" y="425.1" class="lg" textLength="116.92" lengthAdjust="spacingAndGlyphs">Delphi/Object Pascal</text>
<text y="34.1" class="title"><tspan id="t1" x="526.50" textLength="53.80" lengthAdjust="spacingAndGlyphs">TIOBE</tspan> <tspan id="t2" x="585.46" textLength="124.84" lengthAdjust="spacingAndGlyphs">Programming</tspan> <tspan id="t3" x="715.70" textLength="104.86" lengthAdjust="spacingAndGlyphs">Community</tspan> <tspan id="t4" x="826.52" textLength="50.54" lengthAdjust="spacingAndGlyphs">Index</tspan></text>
<text transform="translate(25.2,256.3) rotate(-90)" class="yt" textLength="63" lengthAdjust="spacingAndGlyphs">Ratings (%)</text>
</svg>
</body></html>
